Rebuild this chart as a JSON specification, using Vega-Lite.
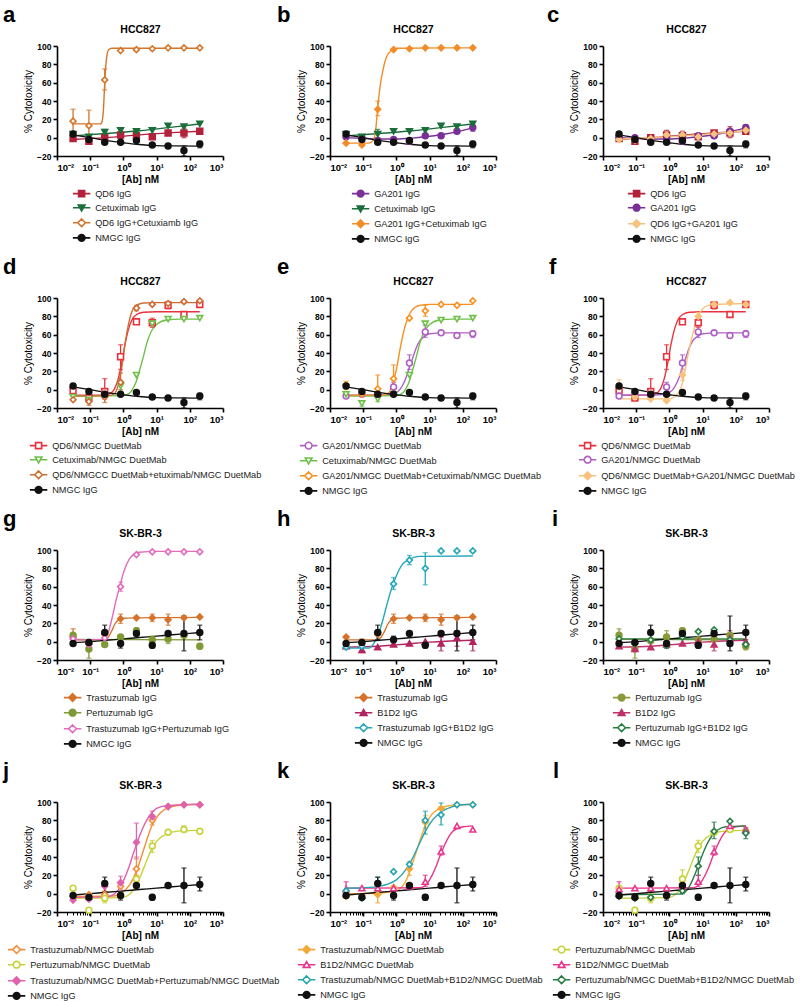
{
"$schema": "https://vega.github.io/schema/vega-lite/v6.json",
"background": "white",
"padding": {"left": 3, "top": 4, "right": 0, "bottom": 0},
"config": {
 "font": "Liberation Sans",
 "view": {"stroke": null},
 "axis": {"domainColor": "#000", "domainWidth": 1.6, "tickColor": "#000", "tickWidth": 1.6, "tickSize": 4, "labelFontWeight": "bold", "labelFontSize": 8.5, "labelColor": "#000", "titleColor": "#000", "grid": false, "labelFont": "Liberation Sans", "titleFont": "Liberation Sans"},
 "axisY": {"titleFontWeight": "normal", "titleFontSize": 10, "titlePadding": 3, "labelPadding": 2},
 "axisX": {"titleFontWeight": "bold", "titleFontSize": 10, "titlePadding": 3, "labelPadding": 2, "labelFontSize": 9.5},
 "axisTop": {"titleFontWeight": "bold", "titleFontSize": 10.5, "titlePadding": 12, "labels": false, "ticks": false, "domain": false},
 "legend": {"symbolSize": 45, "symbolStrokeWidth": 1.6, "labelFontSize": 9.2, "labelFont": "Liberation Sans", "labelColor": "#222", "rowPadding": 1.1, "labelOffset": 9, "padding": 0, "labelLimit": 400, "direction": "vertical"},
 "title": {"anchor": "start", "frame": "group", "fontSize": 22, "fontWeight": "bold", "font": "Liberation Sans", "color": "#000", "offset": -3}
},
"datasets": {
"pts": [
{"p":"a","s":"QD6 IgG","x":0.0305,"y":-1},{"p":"a","s":"QD6 IgG","x":0.0914,"y":-4},{"p":"a","s":"QD6 IgG","x":0.274,"y":0},{"p":"a","s":"QD6 IgG","x":0.823,"y":3,"lo":-1,"hi":7},{"p":"a","s":"QD6 IgG","x":2.47,"y":2},{"p":"a","s":"QD6 IgG","x":7.41,"y":1},{"p":"a","s":"QD6 IgG","x":22.2,"y":5},{"p":"a","s":"QD6 IgG","x":66.7,"y":5,"lo":0,"hi":10},{"p":"a","s":"QD6 IgG","x":200,"y":7},
{"p":"a","s":"Cetuximab IgG","x":0.0305,"y":4},{"p":"a","s":"Cetuximab IgG","x":0.0914,"y":1},{"p":"a","s":"Cetuximab IgG","x":0.274,"y":6,"lo":2,"hi":9},{"p":"a","s":"Cetuximab IgG","x":0.823,"y":8},{"p":"a","s":"Cetuximab IgG","x":2.47,"y":7},{"p":"a","s":"Cetuximab IgG","x":7.41,"y":8},{"p":"a","s":"Cetuximab IgG","x":22.2,"y":13},{"p":"a","s":"Cetuximab IgG","x":66.7,"y":12},{"p":"a","s":"Cetuximab IgG","x":200,"y":15},
{"p":"a","s":"QD6 IgG+Cetuxiamb IgG","x":0.0305,"y":18,"lo":6,"hi":31},{"p":"a","s":"QD6 IgG+Cetuxiamb IgG","x":0.0914,"y":13,"lo":-3,"hi":30},{"p":"a","s":"QD6 IgG+Cetuxiamb IgG","x":0.274,"y":63,"lo":52,"hi":75},{"p":"a","s":"QD6 IgG+Cetuxiamb IgG","x":0.823,"y":95},{"p":"a","s":"QD6 IgG+Cetuxiamb IgG","x":2.47,"y":96},{"p":"a","s":"QD6 IgG+Cetuxiamb IgG","x":7.41,"y":97},{"p":"a","s":"QD6 IgG+Cetuxiamb IgG","x":22.2,"y":98},{"p":"a","s":"QD6 IgG+Cetuxiamb IgG","x":66.7,"y":98},{"p":"a","s":"QD6 IgG+Cetuxiamb IgG","x":200,"y":98},
{"p":"a","s":"NMGC IgG","x":0.0305,"y":4},{"p":"a","s":"NMGC IgG","x":0.0914,"y":-2},{"p":"a","s":"NMGC IgG","x":0.274,"y":-5},{"p":"a","s":"NMGC IgG","x":0.823,"y":-5},{"p":"a","s":"NMGC IgG","x":2.47,"y":-3},{"p":"a","s":"NMGC IgG","x":7.41,"y":-8},{"p":"a","s":"NMGC IgG","x":22.2,"y":-9},{"p":"a","s":"NMGC IgG","x":66.7,"y":-14,"lo":-20,"hi":-9},{"p":"a","s":"NMGC IgG","x":200,"y":-7,"lo":-11,"hi":-4},

{"p":"b","s":"GA201 IgG","x":0.0305,"y":1},{"p":"b","s":"GA201 IgG","x":0.0914,"y":0},{"p":"b","s":"GA201 IgG","x":0.274,"y":-3},{"p":"b","s":"GA201 IgG","x":0.823,"y":-2},{"p":"b","s":"GA201 IgG","x":2.47,"y":-4},{"p":"b","s":"GA201 IgG","x":7.41,"y":2},{"p":"b","s":"GA201 IgG","x":22.2,"y":2},{"p":"b","s":"GA201 IgG","x":66.7,"y":7},{"p":"b","s":"GA201 IgG","x":200,"y":11,"lo":7,"hi":14},
{"p":"b","s":"Cetuximab IgG","x":0.0305,"y":4},{"p":"b","s":"Cetuximab IgG","x":0.0914,"y":1},{"p":"b","s":"Cetuximab IgG","x":0.274,"y":4,"lo":0,"hi":9},{"p":"b","s":"Cetuximab IgG","x":0.823,"y":7},{"p":"b","s":"Cetuximab IgG","x":2.47,"y":7},{"p":"b","s":"Cetuximab IgG","x":7.41,"y":8},{"p":"b","s":"Cetuximab IgG","x":22.2,"y":13},{"p":"b","s":"Cetuximab IgG","x":66.7,"y":12},{"p":"b","s":"Cetuximab IgG","x":200,"y":15},
{"p":"b","s":"GA201 IgG+Cetuximab IgG","x":0.0305,"y":-6},{"p":"b","s":"GA201 IgG+Cetuximab IgG","x":0.0914,"y":-8},{"p":"b","s":"GA201 IgG+Cetuximab IgG","x":0.274,"y":31,"lo":24,"hi":40},{"p":"b","s":"GA201 IgG+Cetuximab IgG","x":0.823,"y":96},{"p":"b","s":"GA201 IgG+Cetuximab IgG","x":2.47,"y":97},{"p":"b","s":"GA201 IgG+Cetuximab IgG","x":7.41,"y":98},{"p":"b","s":"GA201 IgG+Cetuximab IgG","x":22.2,"y":98},{"p":"b","s":"GA201 IgG+Cetuximab IgG","x":66.7,"y":98},{"p":"b","s":"GA201 IgG+Cetuximab IgG","x":200,"y":98},
{"p":"b","s":"NMGC IgG","x":0.0305,"y":4},{"p":"b","s":"NMGC IgG","x":0.0914,"y":-2},{"p":"b","s":"NMGC IgG","x":0.274,"y":-5},{"p":"b","s":"NMGC IgG","x":0.823,"y":-5},{"p":"b","s":"NMGC IgG","x":2.47,"y":-3},{"p":"b","s":"NMGC IgG","x":7.41,"y":-8},{"p":"b","s":"NMGC IgG","x":22.2,"y":-9},{"p":"b","s":"NMGC IgG","x":66.7,"y":-14,"lo":-20,"hi":-9},{"p":"b","s":"NMGC IgG","x":200,"y":-7,"lo":-11,"hi":-4},

{"p":"c","s":"QD6 IgG","x":0.0305,"y":-1},{"p":"c","s":"QD6 IgG","x":0.0914,"y":-4},{"p":"c","s":"QD6 IgG","x":0.274,"y":0},{"p":"c","s":"QD6 IgG","x":0.823,"y":3,"lo":-2,"hi":8},{"p":"c","s":"QD6 IgG","x":2.47,"y":2,"lo":-3,"hi":7},{"p":"c","s":"QD6 IgG","x":7.41,"y":1},{"p":"c","s":"QD6 IgG","x":22.2,"y":5},{"p":"c","s":"QD6 IgG","x":66.7,"y":5,"lo":0,"hi":12},{"p":"c","s":"QD6 IgG","x":200,"y":7},
{"p":"c","s":"GA201 IgG","x":0.0305,"y":1},{"p":"c","s":"GA201 IgG","x":0.0914,"y":0},{"p":"c","s":"GA201 IgG","x":0.274,"y":-3},{"p":"c","s":"GA201 IgG","x":0.823,"y":-2},{"p":"c","s":"GA201 IgG","x":2.47,"y":-4},{"p":"c","s":"GA201 IgG","x":7.41,"y":2},{"p":"c","s":"GA201 IgG","x":22.2,"y":2},{"p":"c","s":"GA201 IgG","x":66.7,"y":7},{"p":"c","s":"GA201 IgG","x":200,"y":11,"lo":7,"hi":14},
{"p":"c","s":"QD6 IgG+GA201 IgG","x":0.0305,"y":-2},{"p":"c","s":"QD6 IgG+GA201 IgG","x":0.0914,"y":-3},{"p":"c","s":"QD6 IgG+GA201 IgG","x":0.274,"y":-1},{"p":"c","s":"QD6 IgG+GA201 IgG","x":0.823,"y":3},{"p":"c","s":"QD6 IgG+GA201 IgG","x":2.47,"y":3},{"p":"c","s":"QD6 IgG+GA201 IgG","x":7.41,"y":1},{"p":"c","s":"QD6 IgG+GA201 IgG","x":22.2,"y":4},{"p":"c","s":"QD6 IgG+GA201 IgG","x":66.7,"y":5},{"p":"c","s":"QD6 IgG+GA201 IgG","x":200,"y":8},
{"p":"c","s":"NMGC IgG","x":0.0305,"y":4},{"p":"c","s":"NMGC IgG","x":0.0914,"y":-2},{"p":"c","s":"NMGC IgG","x":0.274,"y":-5},{"p":"c","s":"NMGC IgG","x":0.823,"y":-5},{"p":"c","s":"NMGC IgG","x":2.47,"y":-3},{"p":"c","s":"NMGC IgG","x":7.41,"y":-8},{"p":"c","s":"NMGC IgG","x":22.2,"y":-9},{"p":"c","s":"NMGC IgG","x":66.7,"y":-14,"lo":-20,"hi":-9},{"p":"c","s":"NMGC IgG","x":200,"y":-7,"lo":-11,"hi":-4},

{"p":"d","s":"QD6/NMGC DuetMab","x":0.0305,"y":-1},{"p":"d","s":"QD6/NMGC DuetMab","x":0.0914,"y":-9},{"p":"d","s":"QD6/NMGC DuetMab","x":0.274,"y":-2,"lo":-10,"hi":12},{"p":"d","s":"QD6/NMGC DuetMab","x":0.823,"y":36,"lo":22,"hi":49},{"p":"d","s":"QD6/NMGC DuetMab","x":2.47,"y":74},{"p":"d","s":"QD6/NMGC DuetMab","x":7.41,"y":73,"lo":68,"hi":78},{"p":"d","s":"QD6/NMGC DuetMab","x":22.2,"y":92,"lo":88,"hi":96},{"p":"d","s":"QD6/NMGC DuetMab","x":66.7,"y":82},{"p":"d","s":"QD6/NMGC DuetMab","x":200,"y":93},
{"p":"d","s":"Cetuximab/NMGC DuetMab","x":0.0305,"y":-8},{"p":"d","s":"Cetuximab/NMGC DuetMab","x":0.0914,"y":-11},{"p":"d","s":"Cetuximab/NMGC DuetMab","x":0.274,"y":-8},{"p":"d","s":"Cetuximab/NMGC DuetMab","x":0.823,"y":4,"lo":-2,"hi":10},{"p":"d","s":"Cetuximab/NMGC DuetMab","x":2.47,"y":16},{"p":"d","s":"Cetuximab/NMGC DuetMab","x":7.41,"y":72},{"p":"d","s":"Cetuximab/NMGC DuetMab","x":22.2,"y":77},{"p":"d","s":"Cetuximab/NMGC DuetMab","x":66.7,"y":77},{"p":"d","s":"Cetuximab/NMGC DuetMab","x":200,"y":78},
{"p":"d","s":"QD6/NMGCC DuetMab+etuximab/NMGC DuetMab","x":0.0305,"y":-11},{"p":"d","s":"QD6/NMGCC DuetMab+etuximab/NMGC DuetMab","x":0.0914,"y":-13,"lo":-17,"hi":-9},{"p":"d","s":"QD6/NMGCC DuetMab+etuximab/NMGC DuetMab","x":0.274,"y":-8,"lo":-14,"hi":-2},{"p":"d","s":"QD6/NMGCC DuetMab+etuximab/NMGC DuetMab","x":0.823,"y":8,"lo":0,"hi":18},{"p":"d","s":"QD6/NMGCC DuetMab+etuximab/NMGC DuetMab","x":2.47,"y":89,"lo":86,"hi":92},{"p":"d","s":"QD6/NMGCC DuetMab+etuximab/NMGC DuetMab","x":7.41,"y":93},{"p":"d","s":"QD6/NMGCC DuetMab+etuximab/NMGC DuetMab","x":22.2,"y":94},{"p":"d","s":"QD6/NMGCC DuetMab+etuximab/NMGC DuetMab","x":66.7,"y":96},{"p":"d","s":"QD6/NMGCC DuetMab+etuximab/NMGC DuetMab","x":200,"y":97},
{"p":"d","s":"NMGC IgG","x":0.0305,"y":4},{"p":"d","s":"NMGC IgG","x":0.0914,"y":-2},{"p":"d","s":"NMGC IgG","x":0.274,"y":-5},{"p":"d","s":"NMGC IgG","x":0.823,"y":-5},{"p":"d","s":"NMGC IgG","x":2.47,"y":-3},{"p":"d","s":"NMGC IgG","x":7.41,"y":-8},{"p":"d","s":"NMGC IgG","x":22.2,"y":-9},{"p":"d","s":"NMGC IgG","x":66.7,"y":-14,"lo":-20,"hi":-9},{"p":"d","s":"NMGC IgG","x":200,"y":-7,"lo":-11,"hi":-4},

{"p":"e","s":"GA201/NMGC DuetMab","x":0.0305,"y":-7},{"p":"e","s":"GA201/NMGC DuetMab","x":0.0914,"y":-5},{"p":"e","s":"GA201/NMGC DuetMab","x":0.274,"y":-6},{"p":"e","s":"GA201/NMGC DuetMab","x":0.823,"y":3,"lo":-2,"hi":8},{"p":"e","s":"GA201/NMGC DuetMab","x":2.47,"y":29,"lo":22,"hi":38},{"p":"e","s":"GA201/NMGC DuetMab","x":7.41,"y":63,"lo":57,"hi":70},{"p":"e","s":"GA201/NMGC DuetMab","x":22.2,"y":62},{"p":"e","s":"GA201/NMGC DuetMab","x":66.7,"y":59},{"p":"e","s":"GA201/NMGC DuetMab","x":200,"y":61,"lo":57,"hi":64},
{"p":"e","s":"Cetuximab/NMGC DuetMab","x":0.0305,"y":-5},{"p":"e","s":"Cetuximab/NMGC DuetMab","x":0.0914,"y":-15,"lo":-18,"hi":-12},{"p":"e","s":"Cetuximab/NMGC DuetMab","x":0.274,"y":-10,"lo":-13,"hi":-7},{"p":"e","s":"Cetuximab/NMGC DuetMab","x":0.823,"y":-5},{"p":"e","s":"Cetuximab/NMGC DuetMab","x":2.47,"y":16},{"p":"e","s":"Cetuximab/NMGC DuetMab","x":7.41,"y":72},{"p":"e","s":"Cetuximab/NMGC DuetMab","x":22.2,"y":76},{"p":"e","s":"Cetuximab/NMGC DuetMab","x":66.7,"y":77},{"p":"e","s":"Cetuximab/NMGC DuetMab","x":200,"y":78},
{"p":"e","s":"GA201/NMGC DuetMab+Cetuximab/NMGC DuetMab","x":0.0305,"y":5,"lo":0,"hi":9},{"p":"e","s":"GA201/NMGC DuetMab+Cetuximab/NMGC DuetMab","x":0.0914,"y":-5},{"p":"e","s":"GA201/NMGC DuetMab+Cetuximab/NMGC DuetMab","x":0.274,"y":1,"lo":-8,"hi":16},{"p":"e","s":"GA201/NMGC DuetMab+Cetuximab/NMGC DuetMab","x":0.823,"y":12,"lo":2,"hi":27},{"p":"e","s":"GA201/NMGC DuetMab+Cetuximab/NMGC DuetMab","x":2.47,"y":78},{"p":"e","s":"GA201/NMGC DuetMab+Cetuximab/NMGC DuetMab","x":7.41,"y":86,"lo":80,"hi":92},{"p":"e","s":"GA201/NMGC DuetMab+Cetuximab/NMGC DuetMab","x":22.2,"y":93},{"p":"e","s":"GA201/NMGC DuetMab+Cetuximab/NMGC DuetMab","x":66.7,"y":92},{"p":"e","s":"GA201/NMGC DuetMab+Cetuximab/NMGC DuetMab","x":200,"y":97},
{"p":"e","s":"NMGC IgG","x":0.0305,"y":4},{"p":"e","s":"NMGC IgG","x":0.0914,"y":-2},{"p":"e","s":"NMGC IgG","x":0.274,"y":-5},{"p":"e","s":"NMGC IgG","x":0.823,"y":-5},{"p":"e","s":"NMGC IgG","x":2.47,"y":-3},{"p":"e","s":"NMGC IgG","x":7.41,"y":-8},{"p":"e","s":"NMGC IgG","x":22.2,"y":-9},{"p":"e","s":"NMGC IgG","x":66.7,"y":-14,"lo":-20,"hi":-9},{"p":"e","s":"NMGC IgG","x":200,"y":-7,"lo":-11,"hi":-4},

{"p":"f","s":"QD6/NMGC DuetMab","x":0.0305,"y":-1},{"p":"f","s":"QD6/NMGC DuetMab","x":0.0914,"y":-9},{"p":"f","s":"QD6/NMGC DuetMab","x":0.274,"y":-2,"lo":-10,"hi":12},{"p":"f","s":"QD6/NMGC DuetMab","x":0.823,"y":36,"lo":22,"hi":49},{"p":"f","s":"QD6/NMGC DuetMab","x":2.47,"y":74},{"p":"f","s":"QD6/NMGC DuetMab","x":7.41,"y":73,"lo":68,"hi":78},{"p":"f","s":"QD6/NMGC DuetMab","x":22.2,"y":92,"lo":88,"hi":96},{"p":"f","s":"QD6/NMGC DuetMab","x":66.7,"y":82},{"p":"f","s":"QD6/NMGC DuetMab","x":200,"y":93},
{"p":"f","s":"GA201/NMGC DuetMab","x":0.0305,"y":-7},{"p":"f","s":"GA201/NMGC DuetMab","x":0.0914,"y":-5},{"p":"f","s":"GA201/NMGC DuetMab","x":0.274,"y":-6},{"p":"f","s":"GA201/NMGC DuetMab","x":0.823,"y":3,"lo":-2,"hi":8},{"p":"f","s":"GA201/NMGC DuetMab","x":2.47,"y":29,"lo":22,"hi":38},{"p":"f","s":"GA201/NMGC DuetMab","x":7.41,"y":63,"lo":57,"hi":70},{"p":"f","s":"GA201/NMGC DuetMab","x":22.2,"y":62},{"p":"f","s":"GA201/NMGC DuetMab","x":66.7,"y":59},{"p":"f","s":"GA201/NMGC DuetMab","x":200,"y":61,"lo":57,"hi":64},
{"p":"f","s":"QD6/NMGC DuetMab+GA201/NMGC DuetMab","x":0.0305,"y":3,"lo":-5,"hi":11},{"p":"f","s":"QD6/NMGC DuetMab+GA201/NMGC DuetMab","x":0.0914,"y":-8},{"p":"f","s":"QD6/NMGC DuetMab+GA201/NMGC DuetMab","x":0.274,"y":-10},{"p":"f","s":"QD6/NMGC DuetMab+GA201/NMGC DuetMab","x":0.823,"y":-12},{"p":"f","s":"QD6/NMGC DuetMab+GA201/NMGC DuetMab","x":2.47,"y":16,"lo":10,"hi":22},{"p":"f","s":"QD6/NMGC DuetMab+GA201/NMGC DuetMab","x":7.41,"y":80,"lo":76,"hi":84},{"p":"f","s":"QD6/NMGC DuetMab+GA201/NMGC DuetMab","x":22.2,"y":93},{"p":"f","s":"QD6/NMGC DuetMab+GA201/NMGC DuetMab","x":66.7,"y":95},{"p":"f","s":"QD6/NMGC DuetMab+GA201/NMGC DuetMab","x":200,"y":93},
{"p":"f","s":"NMGC IgG","x":0.0305,"y":4},{"p":"f","s":"NMGC IgG","x":0.0914,"y":-2},{"p":"f","s":"NMGC IgG","x":0.274,"y":-5},{"p":"f","s":"NMGC IgG","x":0.823,"y":-5},{"p":"f","s":"NMGC IgG","x":2.47,"y":-3},{"p":"f","s":"NMGC IgG","x":7.41,"y":-8},{"p":"f","s":"NMGC IgG","x":22.2,"y":-9},{"p":"f","s":"NMGC IgG","x":66.7,"y":-14,"lo":-20,"hi":-9},{"p":"f","s":"NMGC IgG","x":200,"y":-7,"lo":-11,"hi":-4},

{"p":"g","s":"Trastuzumab IgG","x":0.0305,"y":5,"lo":-2,"hi":14},{"p":"g","s":"Trastuzumab IgG","x":0.0914,"y":-2},{"p":"g","s":"Trastuzumab IgG","x":0.274,"y":8},{"p":"g","s":"Trastuzumab IgG","x":0.823,"y":25,"lo":20,"hi":30},{"p":"g","s":"Trastuzumab IgG","x":2.47,"y":26},{"p":"g","s":"Trastuzumab IgG","x":7.41,"y":26,"lo":22,"hi":30},{"p":"g","s":"Trastuzumab IgG","x":22.2,"y":24,"lo":18,"hi":30},{"p":"g","s":"Trastuzumab IgG","x":66.7,"y":26},{"p":"g","s":"Trastuzumab IgG","x":200,"y":27},
{"p":"g","s":"Pertuzumab IgG","x":0.0305,"y":7},{"p":"g","s":"Pertuzumab IgG","x":0.0914,"y":-8,"lo":-18,"hi":2},{"p":"g","s":"Pertuzumab IgG","x":0.274,"y":-3},{"p":"g","s":"Pertuzumab IgG","x":0.823,"y":5},{"p":"g","s":"Pertuzumab IgG","x":2.47,"y":12,"lo":8,"hi":15},{"p":"g","s":"Pertuzumab IgG","x":7.41,"y":2,"lo":-2,"hi":6},{"p":"g","s":"Pertuzumab IgG","x":22.2,"y":3,"lo":-2,"hi":8},{"p":"g","s":"Pertuzumab IgG","x":66.7,"y":7},{"p":"g","s":"Pertuzumab IgG","x":200,"y":-5,"lo":-8,"hi":-2},
{"p":"g","s":"Trastuzumab IgG+Pertuzumab IgG","x":0.0305,"y":3},{"p":"g","s":"Trastuzumab IgG+Pertuzumab IgG","x":0.0914,"y":-3},{"p":"g","s":"Trastuzumab IgG+Pertuzumab IgG","x":0.274,"y":4},{"p":"g","s":"Trastuzumab IgG+Pertuzumab IgG","x":0.823,"y":60,"lo":55,"hi":65},{"p":"g","s":"Trastuzumab IgG+Pertuzumab IgG","x":2.47,"y":95},{"p":"g","s":"Trastuzumab IgG+Pertuzumab IgG","x":7.41,"y":98},{"p":"g","s":"Trastuzumab IgG+Pertuzumab IgG","x":22.2,"y":98},{"p":"g","s":"Trastuzumab IgG+Pertuzumab IgG","x":66.7,"y":98},{"p":"g","s":"Trastuzumab IgG+Pertuzumab IgG","x":200,"y":98},
{"p":"g","s":"NMGC IgG","x":0.0305,"y":-2},{"p":"g","s":"NMGC IgG","x":0.0914,"y":-1},{"p":"g","s":"NMGC IgG","x":0.274,"y":10,"lo":2,"hi":18},{"p":"g","s":"NMGC IgG","x":0.823,"y":-2,"lo":-7,"hi":2},{"p":"g","s":"NMGC IgG","x":2.47,"y":9},{"p":"g","s":"NMGC IgG","x":7.41,"y":-4,"lo":-7,"hi":-1},{"p":"g","s":"NMGC IgG","x":22.2,"y":9},{"p":"g","s":"NMGC IgG","x":66.7,"y":9,"lo":-10,"hi":28},{"p":"g","s":"NMGC IgG","x":200,"y":10,"lo":2,"hi":18},

{"p":"h","s":"Trastuzumab IgG","x":0.0305,"y":5,"lo":-2,"hi":6},{"p":"h","s":"Trastuzumab IgG","x":0.0914,"y":-2,"lo":-6,"hi":3},{"p":"h","s":"Trastuzumab IgG","x":0.274,"y":8},{"p":"h","s":"Trastuzumab IgG","x":0.823,"y":25,"lo":20,"hi":30},{"p":"h","s":"Trastuzumab IgG","x":2.47,"y":26},{"p":"h","s":"Trastuzumab IgG","x":7.41,"y":26,"lo":22,"hi":30},{"p":"h","s":"Trastuzumab IgG","x":22.2,"y":24,"lo":18,"hi":30},{"p":"h","s":"Trastuzumab IgG","x":66.7,"y":26},{"p":"h","s":"Trastuzumab IgG","x":200,"y":27},
{"p":"h","s":"B1D2 IgG","x":0.0305,"y":-5},{"p":"h","s":"B1D2 IgG","x":0.0914,"y":-9,"lo":-12,"hi":-4},{"p":"h","s":"B1D2 IgG","x":0.274,"y":-6},{"p":"h","s":"B1D2 IgG","x":0.823,"y":-3},{"p":"h","s":"B1D2 IgG","x":2.47,"y":-2},{"p":"h","s":"B1D2 IgG","x":7.41,"y":0},{"p":"h","s":"B1D2 IgG","x":22.2,"y":-2,"lo":-10,"hi":5},{"p":"h","s":"B1D2 IgG","x":66.7,"y":4,"lo":-5,"hi":12},{"p":"h","s":"B1D2 IgG","x":200,"y":0,"lo":-10,"hi":8},
{"p":"h","s":"Trastuzumab IgG+B1D2 IgG","x":0.0305,"y":-6},{"p":"h","s":"Trastuzumab IgG+B1D2 IgG","x":0.0914,"y":-5},{"p":"h","s":"Trastuzumab IgG+B1D2 IgG","x":0.274,"y":10},{"p":"h","s":"Trastuzumab IgG+B1D2 IgG","x":0.823,"y":63,"lo":57,"hi":70},{"p":"h","s":"Trastuzumab IgG+B1D2 IgG","x":2.47,"y":89,"lo":84,"hi":94},{"p":"h","s":"Trastuzumab IgG+B1D2 IgG","x":7.41,"y":80,"lo":62,"hi":97},{"p":"h","s":"Trastuzumab IgG+B1D2 IgG","x":22.2,"y":99},{"p":"h","s":"Trastuzumab IgG+B1D2 IgG","x":66.7,"y":99},{"p":"h","s":"Trastuzumab IgG+B1D2 IgG","x":200,"y":99},
{"p":"h","s":"NMGC IgG","x":0.0305,"y":-2},{"p":"h","s":"NMGC IgG","x":0.0914,"y":-1},{"p":"h","s":"NMGC IgG","x":0.274,"y":10,"lo":2,"hi":18},{"p":"h","s":"NMGC IgG","x":0.823,"y":2,"lo":-3,"hi":6},{"p":"h","s":"NMGC IgG","x":2.47,"y":9},{"p":"h","s":"NMGC IgG","x":7.41,"y":-4,"lo":-7,"hi":-1},{"p":"h","s":"NMGC IgG","x":22.2,"y":9},{"p":"h","s":"NMGC IgG","x":66.7,"y":9,"lo":-10,"hi":28},{"p":"h","s":"NMGC IgG","x":200,"y":10,"lo":2,"hi":18},

{"p":"i","s":"Pertuzumab IgG","x":0.0305,"y":7,"lo":0,"hi":14},{"p":"i","s":"Pertuzumab IgG","x":0.0914,"y":-8,"lo":-18,"hi":2},{"p":"i","s":"Pertuzumab IgG","x":0.274,"y":1},{"p":"i","s":"Pertuzumab IgG","x":0.823,"y":5,"lo":-2,"hi":12},{"p":"i","s":"Pertuzumab IgG","x":2.47,"y":12,"lo":8,"hi":15},{"p":"i","s":"Pertuzumab IgG","x":7.41,"y":2},{"p":"i","s":"Pertuzumab IgG","x":22.2,"y":3},{"p":"i","s":"Pertuzumab IgG","x":66.7,"y":7},{"p":"i","s":"Pertuzumab IgG","x":200,"y":-5,"lo":-9,"hi":-2},
{"p":"i","s":"B1D2 IgG","x":0.0305,"y":-5},{"p":"i","s":"B1D2 IgG","x":0.0914,"y":-8},{"p":"i","s":"B1D2 IgG","x":0.274,"y":-6},{"p":"i","s":"B1D2 IgG","x":0.823,"y":-3},{"p":"i","s":"B1D2 IgG","x":2.47,"y":-2},{"p":"i","s":"B1D2 IgG","x":7.41,"y":0},{"p":"i","s":"B1D2 IgG","x":22.2,"y":-3,"lo":-10,"hi":5},{"p":"i","s":"B1D2 IgG","x":66.7,"y":4,"lo":-5,"hi":12},{"p":"i","s":"B1D2 IgG","x":200,"y":0},
{"p":"i","s":"Pertuzumab IgG+B1D2 IgG","x":0.0305,"y":3},{"p":"i","s":"Pertuzumab IgG+B1D2 IgG","x":0.0914,"y":-2},{"p":"i","s":"Pertuzumab IgG+B1D2 IgG","x":0.274,"y":2},{"p":"i","s":"Pertuzumab IgG+B1D2 IgG","x":0.823,"y":-4},{"p":"i","s":"Pertuzumab IgG+B1D2 IgG","x":2.47,"y":5},{"p":"i","s":"Pertuzumab IgG+B1D2 IgG","x":7.41,"y":11},{"p":"i","s":"Pertuzumab IgG+B1D2 IgG","x":22.2,"y":13},{"p":"i","s":"Pertuzumab IgG+B1D2 IgG","x":66.7,"y":2},{"p":"i","s":"Pertuzumab IgG+B1D2 IgG","x":200,"y":-3},
{"p":"i","s":"NMGC IgG","x":0.0305,"y":-2},{"p":"i","s":"NMGC IgG","x":0.0914,"y":-1},{"p":"i","s":"NMGC IgG","x":0.274,"y":10,"lo":2,"hi":18},{"p":"i","s":"NMGC IgG","x":0.823,"y":-2,"lo":-7,"hi":2},{"p":"i","s":"NMGC IgG","x":2.47,"y":9},{"p":"i","s":"NMGC IgG","x":7.41,"y":-4,"lo":-7,"hi":-1},{"p":"i","s":"NMGC IgG","x":22.2,"y":9},{"p":"i","s":"NMGC IgG","x":66.7,"y":-2,"lo":-10,"hi":28},{"p":"i","s":"NMGC IgG","x":200,"y":10,"lo":2,"hi":18},

{"p":"j","s":"Trastuzumab/NMGC DuetMab","x":0.0305,"y":-3},{"p":"j","s":"Trastuzumab/NMGC DuetMab","x":0.0914,"y":-1},{"p":"j","s":"Trastuzumab/NMGC DuetMab","x":0.274,"y":-1,"lo":-8,"hi":3},{"p":"j","s":"Trastuzumab/NMGC DuetMab","x":0.823,"y":8},{"p":"j","s":"Trastuzumab/NMGC DuetMab","x":2.47,"y":27,"lo":20,"hi":40},{"p":"j","s":"Trastuzumab/NMGC DuetMab","x":7.41,"y":80,"lo":75,"hi":86},{"p":"j","s":"Trastuzumab/NMGC DuetMab","x":22.2,"y":95},{"p":"j","s":"Trastuzumab/NMGC DuetMab","x":66.7,"y":97},{"p":"j","s":"Trastuzumab/NMGC DuetMab","x":200,"y":97},
{"p":"j","s":"Pertuzumab/NMGC DuetMab","x":0.0305,"y":6},{"p":"j","s":"Pertuzumab/NMGC DuetMab","x":0.0914,"y":-18},{"p":"j","s":"Pertuzumab/NMGC DuetMab","x":0.274,"y":-5,"lo":-10,"hi":0},{"p":"j","s":"Pertuzumab/NMGC DuetMab","x":0.823,"y":-2},{"p":"j","s":"Pertuzumab/NMGC DuetMab","x":2.47,"y":16},{"p":"j","s":"Pertuzumab/NMGC DuetMab","x":7.41,"y":52,"lo":45,"hi":58},{"p":"j","s":"Pertuzumab/NMGC DuetMab","x":22.2,"y":67},{"p":"j","s":"Pertuzumab/NMGC DuetMab","x":66.7,"y":70,"lo":67,"hi":74},{"p":"j","s":"Pertuzumab/NMGC DuetMab","x":200,"y":68},
{"p":"j","s":"Trastuzumab/NMGC DuetMab+Pertuzumab/NMGC DuetMab","x":0.0305,"y":-7},{"p":"j","s":"Trastuzumab/NMGC DuetMab+Pertuzumab/NMGC DuetMab","x":0.0914,"y":-6},{"p":"j","s":"Trastuzumab/NMGC DuetMab+Pertuzumab/NMGC DuetMab","x":0.274,"y":8},{"p":"j","s":"Trastuzumab/NMGC DuetMab+Pertuzumab/NMGC DuetMab","x":0.823,"y":12,"lo":5,"hi":19},{"p":"j","s":"Trastuzumab/NMGC DuetMab+Pertuzumab/NMGC DuetMab","x":2.47,"y":56,"lo":38,"hi":77},{"p":"j","s":"Trastuzumab/NMGC DuetMab+Pertuzumab/NMGC DuetMab","x":7.41,"y":84,"lo":80,"hi":90},{"p":"j","s":"Trastuzumab/NMGC DuetMab+Pertuzumab/NMGC DuetMab","x":22.2,"y":95},{"p":"j","s":"Trastuzumab/NMGC DuetMab+Pertuzumab/NMGC DuetMab","x":66.7,"y":97},{"p":"j","s":"Trastuzumab/NMGC DuetMab+Pertuzumab/NMGC DuetMab","x":200,"y":97},
{"p":"j","s":"NMGC IgG","x":0.0305,"y":-2},{"p":"j","s":"NMGC IgG","x":0.0914,"y":-4},{"p":"j","s":"NMGC IgG","x":0.274,"y":11,"lo":2,"hi":18},{"p":"j","s":"NMGC IgG","x":0.823,"y":-2,"lo":-7,"hi":2},{"p":"j","s":"NMGC IgG","x":2.47,"y":9},{"p":"j","s":"NMGC IgG","x":7.41,"y":-4,"lo":-7,"hi":-1},{"p":"j","s":"NMGC IgG","x":22.2,"y":9},{"p":"j","s":"NMGC IgG","x":66.7,"y":9,"lo":-10,"hi":28},{"p":"j","s":"NMGC IgG","x":200,"y":10,"lo":3,"hi":18},

{"p":"k","s":"Trastuzumab/NMGC DuetMab","x":0.0305,"y":-3},{"p":"k","s":"Trastuzumab/NMGC DuetMab","x":0.0914,"y":-5},{"p":"k","s":"Trastuzumab/NMGC DuetMab","x":0.274,"y":-1,"lo":-10,"hi":8},{"p":"k","s":"Trastuzumab/NMGC DuetMab","x":0.823,"y":7},{"p":"k","s":"Trastuzumab/NMGC DuetMab","x":2.47,"y":27,"lo":20,"hi":35},{"p":"k","s":"Trastuzumab/NMGC DuetMab","x":7.41,"y":78,"lo":72,"hi":85},{"p":"k","s":"Trastuzumab/NMGC DuetMab","x":22.2,"y":93},{"p":"k","s":"Trastuzumab/NMGC DuetMab","x":66.7,"y":97},{"p":"k","s":"Trastuzumab/NMGC DuetMab","x":200,"y":97},
{"p":"k","s":"B1D2/NMGC DuetMab","x":0.0305,"y":5,"lo":-3,"hi":13},{"p":"k","s":"B1D2/NMGC DuetMab","x":0.0914,"y":6},{"p":"k","s":"B1D2/NMGC DuetMab","x":0.274,"y":6},{"p":"k","s":"B1D2/NMGC DuetMab","x":0.823,"y":6},{"p":"k","s":"B1D2/NMGC DuetMab","x":2.47,"y":8},{"p":"k","s":"B1D2/NMGC DuetMab","x":7.41,"y":13,"lo":8,"hi":20},{"p":"k","s":"B1D2/NMGC DuetMab","x":22.2,"y":46,"lo":42,"hi":52},{"p":"k","s":"B1D2/NMGC DuetMab","x":66.7,"y":74},{"p":"k","s":"B1D2/NMGC DuetMab","x":200,"y":70},
{"p":"k","s":"Trastuzumab/NMGC DuetMab+B1D2/NMGC DuetMab","x":0.0305,"y":3},{"p":"k","s":"Trastuzumab/NMGC DuetMab+B1D2/NMGC DuetMab","x":0.0914,"y":-5},{"p":"k","s":"Trastuzumab/NMGC DuetMab+B1D2/NMGC DuetMab","x":0.274,"y":11,"lo":5,"hi":18},{"p":"k","s":"Trastuzumab/NMGC DuetMab+B1D2/NMGC DuetMab","x":0.823,"y":24},{"p":"k","s":"Trastuzumab/NMGC DuetMab+B1D2/NMGC DuetMab","x":2.47,"y":32},{"p":"k","s":"Trastuzumab/NMGC DuetMab+B1D2/NMGC DuetMab","x":7.41,"y":80,"lo":65,"hi":90},{"p":"k","s":"Trastuzumab/NMGC DuetMab+B1D2/NMGC DuetMab","x":22.2,"y":86,"lo":75,"hi":99},{"p":"k","s":"Trastuzumab/NMGC DuetMab+B1D2/NMGC DuetMab","x":66.7,"y":97},{"p":"k","s":"Trastuzumab/NMGC DuetMab+B1D2/NMGC DuetMab","x":200,"y":97},
{"p":"k","s":"NMGC IgG","x":0.0305,"y":-2},{"p":"k","s":"NMGC IgG","x":0.0914,"y":-4},{"p":"k","s":"NMGC IgG","x":0.274,"y":11,"lo":2,"hi":18},{"p":"k","s":"NMGC IgG","x":0.823,"y":-2,"lo":-7,"hi":2},{"p":"k","s":"NMGC IgG","x":2.47,"y":9},{"p":"k","s":"NMGC IgG","x":7.41,"y":-4,"lo":-7,"hi":-1},{"p":"k","s":"NMGC IgG","x":22.2,"y":9},{"p":"k","s":"NMGC IgG","x":66.7,"y":9,"lo":-10,"hi":28},{"p":"k","s":"NMGC IgG","x":200,"y":10,"lo":3,"hi":18},

{"p":"l","s":"Pertuzumab/NMGC DuetMab","x":0.0305,"y":6},{"p":"l","s":"Pertuzumab/NMGC DuetMab","x":0.0914,"y":-18},{"p":"l","s":"Pertuzumab/NMGC DuetMab","x":0.274,"y":-5,"lo":-10,"hi":0},{"p":"l","s":"Pertuzumab/NMGC DuetMab","x":0.823,"y":-2},{"p":"l","s":"Pertuzumab/NMGC DuetMab","x":2.47,"y":16,"lo":8,"hi":26},{"p":"l","s":"Pertuzumab/NMGC DuetMab","x":7.41,"y":52,"lo":45,"hi":58},{"p":"l","s":"Pertuzumab/NMGC DuetMab","x":22.2,"y":67},{"p":"l","s":"Pertuzumab/NMGC DuetMab","x":66.7,"y":70,"lo":67,"hi":74},{"p":"l","s":"Pertuzumab/NMGC DuetMab","x":200,"y":68},
{"p":"l","s":"B1D2/NMGC DuetMab","x":0.0305,"y":5,"lo":-3,"hi":13},{"p":"l","s":"B1D2/NMGC DuetMab","x":0.0914,"y":6},{"p":"l","s":"B1D2/NMGC DuetMab","x":0.274,"y":6},{"p":"l","s":"B1D2/NMGC DuetMab","x":0.823,"y":6},{"p":"l","s":"B1D2/NMGC DuetMab","x":2.47,"y":8},{"p":"l","s":"B1D2/NMGC DuetMab","x":7.41,"y":13,"lo":8,"hi":20},{"p":"l","s":"B1D2/NMGC DuetMab","x":22.2,"y":46,"lo":42,"hi":52},{"p":"l","s":"B1D2/NMGC DuetMab","x":66.7,"y":74},{"p":"l","s":"B1D2/NMGC DuetMab","x":200,"y":70},
{"p":"l","s":"Pertuzumab/NMGC DuetMab+B1D2/NMGC DuetMab","x":0.0305,"y":-3},{"p":"l","s":"Pertuzumab/NMGC DuetMab+B1D2/NMGC DuetMab","x":0.0914,"y":-5},{"p":"l","s":"Pertuzumab/NMGC DuetMab+B1D2/NMGC DuetMab","x":0.274,"y":-4},{"p":"l","s":"Pertuzumab/NMGC DuetMab+B1D2/NMGC DuetMab","x":0.823,"y":-2},{"p":"l","s":"Pertuzumab/NMGC DuetMab+B1D2/NMGC DuetMab","x":2.47,"y":3,"lo":0,"hi":6},{"p":"l","s":"Pertuzumab/NMGC DuetMab+B1D2/NMGC DuetMab","x":7.41,"y":30,"lo":20,"hi":40},{"p":"l","s":"Pertuzumab/NMGC DuetMab+B1D2/NMGC DuetMab","x":22.2,"y":68,"lo":60,"hi":78},{"p":"l","s":"Pertuzumab/NMGC DuetMab+B1D2/NMGC DuetMab","x":66.7,"y":79},{"p":"l","s":"Pertuzumab/NMGC DuetMab+B1D2/NMGC DuetMab","x":200,"y":66,"lo":60,"hi":72},
{"p":"l","s":"NMGC IgG","x":0.0305,"y":-2},{"p":"l","s":"NMGC IgG","x":0.0914,"y":-4},{"p":"l","s":"NMGC IgG","x":0.274,"y":11,"lo":2,"hi":18},{"p":"l","s":"NMGC IgG","x":0.823,"y":-2,"lo":-7,"hi":2},{"p":"l","s":"NMGC IgG","x":2.47,"y":9},{"p":"l","s":"NMGC IgG","x":7.41,"y":-4,"lo":-7,"hi":-1},{"p":"l","s":"NMGC IgG","x":22.2,"y":9},{"p":"l","s":"NMGC IgG","x":66.7,"y":9,"lo":-10,"hi":28},{"p":"l","s":"NMGC IgG","x":200,"y":10,"lo":3,"hi":18}
],
"crv": [
{"p":"a","s":"QD6 IgG","x":0.03,"y":-2},{"p":"a","s":"QD6 IgG","x":0.3,"y":0},{"p":"a","s":"QD6 IgG","x":3,"y":3},{"p":"a","s":"QD6 IgG","x":30,"y":5.5},{"p":"a","s":"QD6 IgG","x":200,"y":7},
{"p":"a","s":"Cetuximab IgG","x":0.03,"y":2},{"p":"a","s":"Cetuximab IgG","x":0.3,"y":4.5},{"p":"a","s":"Cetuximab IgG","x":3,"y":7.5},{"p":"a","s":"Cetuximab IgG","x":30,"y":11.5},{"p":"a","s":"Cetuximab IgG","x":200,"y":15},
{"p":"a","s":"QD6 IgG+Cetuxiamb IgG","x":0.03,"y":15},{"p":"a","s":"QD6 IgG+Cetuxiamb IgG","x":0.2,"y":15},{"p":"a","s":"QD6 IgG+Cetuxiamb IgG","x":0.22,"y":16},{"p":"a","s":"QD6 IgG+Cetuxiamb IgG","x":0.25,"y":30},{"p":"a","s":"QD6 IgG+Cetuxiamb IgG","x":0.27,"y":55},{"p":"a","s":"QD6 IgG+Cetuxiamb IgG","x":0.29,"y":75},{"p":"a","s":"QD6 IgG+Cetuxiamb IgG","x":0.32,"y":90},{"p":"a","s":"QD6 IgG+Cetuxiamb IgG","x":0.36,"y":96},{"p":"a","s":"QD6 IgG+Cetuxiamb IgG","x":0.45,"y":97.5},{"p":"a","s":"QD6 IgG+Cetuxiamb IgG","x":200,"y":97.5},
{"p":"a","s":"NMGC IgG","x":0.03,"y":3},{"p":"a","s":"NMGC IgG","x":0.1,"y":0},{"p":"a","s":"NMGC IgG","x":0.3,"y":-3},{"p":"a","s":"NMGC IgG","x":1,"y":-5.5},{"p":"a","s":"NMGC IgG","x":3,"y":-7.5},{"p":"a","s":"NMGC IgG","x":10,"y":-8.7},{"p":"a","s":"NMGC IgG","x":30,"y":-9},{"p":"a","s":"NMGC IgG","x":200,"y":-9.2},

{"p":"b","s":"GA201 IgG","x":0.03,"y":0},{"p":"b","s":"GA201 IgG","x":0.3,"y":-1.5},{"p":"b","s":"GA201 IgG","x":1,"y":-1.5},{"p":"b","s":"GA201 IgG","x":3,"y":-0.5},{"p":"b","s":"GA201 IgG","x":10,"y":1.5},{"p":"b","s":"GA201 IgG","x":30,"y":4},{"p":"b","s":"GA201 IgG","x":100,"y":8},{"p":"b","s":"GA201 IgG","x":200,"y":11},
{"p":"b","s":"Cetuximab IgG","x":0.03,"y":2},{"p":"b","s":"Cetuximab IgG","x":0.3,"y":4.5},{"p":"b","s":"Cetuximab IgG","x":3,"y":7.5},{"p":"b","s":"Cetuximab IgG","x":30,"y":11.5},{"p":"b","s":"Cetuximab IgG","x":200,"y":15},
{"p":"b","s":"GA201 IgG+Cetuximab IgG","x":0.03,"y":-6},{"p":"b","s":"GA201 IgG+Cetuximab IgG","x":0.15,"y":-6},{"p":"b","s":"GA201 IgG+Cetuximab IgG","x":0.2,"y":-3},{"p":"b","s":"GA201 IgG+Cetuximab IgG","x":0.24,"y":10},{"p":"b","s":"GA201 IgG+Cetuximab IgG","x":0.27,"y":30},{"p":"b","s":"GA201 IgG+Cetuximab IgG","x":0.32,"y":55},{"p":"b","s":"GA201 IgG+Cetuximab IgG","x":0.4,"y":75},{"p":"b","s":"GA201 IgG+Cetuximab IgG","x":0.5,"y":88},{"p":"b","s":"GA201 IgG+Cetuximab IgG","x":0.7,"y":95},{"p":"b","s":"GA201 IgG+Cetuximab IgG","x":1,"y":97.5},{"p":"b","s":"GA201 IgG+Cetuximab IgG","x":200,"y":98},
{"p":"b","s":"NMGC IgG","x":0.03,"y":3},{"p":"b","s":"NMGC IgG","x":0.1,"y":0},{"p":"b","s":"NMGC IgG","x":0.3,"y":-3},{"p":"b","s":"NMGC IgG","x":1,"y":-5.5},{"p":"b","s":"NMGC IgG","x":3,"y":-7.5},{"p":"b","s":"NMGC IgG","x":10,"y":-8.7},{"p":"b","s":"NMGC IgG","x":30,"y":-9},{"p":"b","s":"NMGC IgG","x":200,"y":-9.2},

{"p":"c","s":"QD6 IgG","x":0.03,"y":-2},{"p":"c","s":"QD6 IgG","x":0.3,"y":0},{"p":"c","s":"QD6 IgG","x":3,"y":3},{"p":"c","s":"QD6 IgG","x":30,"y":5.5},{"p":"c","s":"QD6 IgG","x":200,"y":7},
{"p":"c","s":"GA201 IgG","x":0.03,"y":0},{"p":"c","s":"GA201 IgG","x":0.3,"y":-1.5},{"p":"c","s":"GA201 IgG","x":1,"y":-1.5},{"p":"c","s":"GA201 IgG","x":3,"y":-0.5},{"p":"c","s":"GA201 IgG","x":10,"y":1.5},{"p":"c","s":"GA201 IgG","x":30,"y":4},{"p":"c","s":"GA201 IgG","x":100,"y":8},{"p":"c","s":"GA201 IgG","x":200,"y":11},
{"p":"c","s":"QD6 IgG+GA201 IgG","x":0.03,"y":-1.5},{"p":"c","s":"QD6 IgG+GA201 IgG","x":1,"y":1},{"p":"c","s":"QD6 IgG+GA201 IgG","x":10,"y":3.5},{"p":"c","s":"QD6 IgG+GA201 IgG","x":200,"y":7.5},
{"p":"c","s":"NMGC IgG","x":0.03,"y":3},{"p":"c","s":"NMGC IgG","x":0.1,"y":0},{"p":"c","s":"NMGC IgG","x":0.3,"y":-3},{"p":"c","s":"NMGC IgG","x":1,"y":-5.5},{"p":"c","s":"NMGC IgG","x":3,"y":-7.5},{"p":"c","s":"NMGC IgG","x":10,"y":-8.7},{"p":"c","s":"NMGC IgG","x":30,"y":-9},{"p":"c","s":"NMGC IgG","x":200,"y":-9.2},

{"p":"d","s":"QD6/NMGC DuetMab","x":0.03,"y":-6},{"p":"d","s":"QD6/NMGC DuetMab","x":0.2,"y":-6},{"p":"d","s":"QD6/NMGC DuetMab","x":0.35,"y":-5},{"p":"d","s":"QD6/NMGC DuetMab","x":0.5,"y":-1},{"p":"d","s":"QD6/NMGC DuetMab","x":0.7,"y":12},{"p":"d","s":"QD6/NMGC DuetMab","x":0.9,"y":30},{"p":"d","s":"QD6/NMGC DuetMab","x":1.1,"y":48},{"p":"d","s":"QD6/NMGC DuetMab","x":1.4,"y":65},{"p":"d","s":"QD6/NMGC DuetMab","x":1.8,"y":76},{"p":"d","s":"QD6/NMGC DuetMab","x":2.5,"y":82},{"p":"d","s":"QD6/NMGC DuetMab","x":4,"y":84.5},{"p":"d","s":"QD6/NMGC DuetMab","x":10,"y":85},{"p":"d","s":"QD6/NMGC DuetMab","x":200,"y":85},
{"p":"d","s":"Cetuximab/NMGC DuetMab","x":0.03,"y":-7},{"p":"d","s":"Cetuximab/NMGC DuetMab","x":1,"y":-6.5},{"p":"d","s":"Cetuximab/NMGC DuetMab","x":1.5,"y":-4},{"p":"d","s":"Cetuximab/NMGC DuetMab","x":2,"y":2},{"p":"d","s":"Cetuximab/NMGC DuetMab","x":2.5,"y":10},{"p":"d","s":"Cetuximab/NMGC DuetMab","x":3,"y":20},{"p":"d","s":"Cetuximab/NMGC DuetMab","x":4,"y":36},{"p":"d","s":"Cetuximab/NMGC DuetMab","x":5,"y":50},{"p":"d","s":"Cetuximab/NMGC DuetMab","x":7,"y":64},{"p":"d","s":"Cetuximab/NMGC DuetMab","x":10,"y":71},{"p":"d","s":"Cetuximab/NMGC DuetMab","x":20,"y":76},{"p":"d","s":"Cetuximab/NMGC DuetMab","x":50,"y":77},{"p":"d","s":"Cetuximab/NMGC DuetMab","x":200,"y":77},
{"p":"d","s":"QD6/NMGCC DuetMab+etuximab/NMGC DuetMab","x":0.03,"y":-7},{"p":"d","s":"QD6/NMGCC DuetMab+etuximab/NMGC DuetMab","x":0.35,"y":-6.5},{"p":"d","s":"QD6/NMGCC DuetMab+etuximab/NMGC DuetMab","x":0.5,"y":-5},{"p":"d","s":"QD6/NMGCC DuetMab+etuximab/NMGC DuetMab","x":0.7,"y":5},{"p":"d","s":"QD6/NMGCC DuetMab+etuximab/NMGC DuetMab","x":0.9,"y":25},{"p":"d","s":"QD6/NMGCC DuetMab+etuximab/NMGC DuetMab","x":1.1,"y":48},{"p":"d","s":"QD6/NMGCC DuetMab+etuximab/NMGC DuetMab","x":1.4,"y":70},{"p":"d","s":"QD6/NMGCC DuetMab+etuximab/NMGC DuetMab","x":1.8,"y":85},{"p":"d","s":"QD6/NMGCC DuetMab+etuximab/NMGC DuetMab","x":2.5,"y":92},{"p":"d","s":"QD6/NMGCC DuetMab+etuximab/NMGC DuetMab","x":4,"y":94.5},{"p":"d","s":"QD6/NMGCC DuetMab+etuximab/NMGC DuetMab","x":10,"y":95},{"p":"d","s":"QD6/NMGCC DuetMab+etuximab/NMGC DuetMab","x":200,"y":95},
{"p":"d","s":"NMGC IgG","x":0.03,"y":3},{"p":"d","s":"NMGC IgG","x":0.1,"y":0},{"p":"d","s":"NMGC IgG","x":0.3,"y":-3},{"p":"d","s":"NMGC IgG","x":1,"y":-5.5},{"p":"d","s":"NMGC IgG","x":3,"y":-7.5},{"p":"d","s":"NMGC IgG","x":10,"y":-8.7},{"p":"d","s":"NMGC IgG","x":30,"y":-9},{"p":"d","s":"NMGC IgG","x":200,"y":-9.2},

{"p":"e","s":"GA201/NMGC DuetMab","x":0.03,"y":-6},{"p":"e","s":"GA201/NMGC DuetMab","x":0.5,"y":-5.5},{"p":"e","s":"GA201/NMGC DuetMab","x":1,"y":-3},{"p":"e","s":"GA201/NMGC DuetMab","x":1.5,"y":4},{"p":"e","s":"GA201/NMGC DuetMab","x":2,"y":14},{"p":"e","s":"GA201/NMGC DuetMab","x":2.5,"y":25},{"p":"e","s":"GA201/NMGC DuetMab","x":3,"y":33},{"p":"e","s":"GA201/NMGC DuetMab","x":4,"y":46},{"p":"e","s":"GA201/NMGC DuetMab","x":5,"y":53},{"p":"e","s":"GA201/NMGC DuetMab","x":7,"y":58},{"p":"e","s":"GA201/NMGC DuetMab","x":10,"y":61},{"p":"e","s":"GA201/NMGC DuetMab","x":30,"y":62},{"p":"e","s":"GA201/NMGC DuetMab","x":200,"y":62},
{"p":"e","s":"Cetuximab/NMGC DuetMab","x":0.03,"y":-7},{"p":"e","s":"Cetuximab/NMGC DuetMab","x":1,"y":-6.5},{"p":"e","s":"Cetuximab/NMGC DuetMab","x":1.5,"y":-4},{"p":"e","s":"Cetuximab/NMGC DuetMab","x":2,"y":2},{"p":"e","s":"Cetuximab/NMGC DuetMab","x":2.5,"y":10},{"p":"e","s":"Cetuximab/NMGC DuetMab","x":3,"y":20},{"p":"e","s":"Cetuximab/NMGC DuetMab","x":4,"y":36},{"p":"e","s":"Cetuximab/NMGC DuetMab","x":5,"y":50},{"p":"e","s":"Cetuximab/NMGC DuetMab","x":7,"y":64},{"p":"e","s":"Cetuximab/NMGC DuetMab","x":10,"y":71},{"p":"e","s":"Cetuximab/NMGC DuetMab","x":20,"y":76},{"p":"e","s":"Cetuximab/NMGC DuetMab","x":50,"y":77},{"p":"e","s":"Cetuximab/NMGC DuetMab","x":200,"y":77},
{"p":"e","s":"GA201/NMGC DuetMab+Cetuximab/NMGC DuetMab","x":0.03,"y":-6},{"p":"e","s":"GA201/NMGC DuetMab+Cetuximab/NMGC DuetMab","x":0.4,"y":-6},{"p":"e","s":"GA201/NMGC DuetMab+Cetuximab/NMGC DuetMab","x":0.6,"y":-3},{"p":"e","s":"GA201/NMGC DuetMab+Cetuximab/NMGC DuetMab","x":0.8,"y":8},{"p":"e","s":"GA201/NMGC DuetMab+Cetuximab/NMGC DuetMab","x":1,"y":22},{"p":"e","s":"GA201/NMGC DuetMab+Cetuximab/NMGC DuetMab","x":1.3,"y":45},{"p":"e","s":"GA201/NMGC DuetMab+Cetuximab/NMGC DuetMab","x":1.7,"y":65},{"p":"e","s":"GA201/NMGC DuetMab+Cetuximab/NMGC DuetMab","x":2.2,"y":78},{"p":"e","s":"GA201/NMGC DuetMab+Cetuximab/NMGC DuetMab","x":3,"y":87},{"p":"e","s":"GA201/NMGC DuetMab+Cetuximab/NMGC DuetMab","x":5,"y":92},{"p":"e","s":"GA201/NMGC DuetMab+Cetuximab/NMGC DuetMab","x":10,"y":93},{"p":"e","s":"GA201/NMGC DuetMab+Cetuximab/NMGC DuetMab","x":200,"y":93},
{"p":"e","s":"NMGC IgG","x":0.03,"y":3},{"p":"e","s":"NMGC IgG","x":0.1,"y":0},{"p":"e","s":"NMGC IgG","x":0.3,"y":-3},{"p":"e","s":"NMGC IgG","x":1,"y":-5.5},{"p":"e","s":"NMGC IgG","x":3,"y":-7.5},{"p":"e","s":"NMGC IgG","x":10,"y":-8.7},{"p":"e","s":"NMGC IgG","x":30,"y":-9},{"p":"e","s":"NMGC IgG","x":200,"y":-9.2},

{"p":"f","s":"QD6/NMGC DuetMab","x":0.03,"y":-6},{"p":"f","s":"QD6/NMGC DuetMab","x":0.2,"y":-6},{"p":"f","s":"QD6/NMGC DuetMab","x":0.35,"y":-5},{"p":"f","s":"QD6/NMGC DuetMab","x":0.5,"y":-1},{"p":"f","s":"QD6/NMGC DuetMab","x":0.7,"y":12},{"p":"f","s":"QD6/NMGC DuetMab","x":0.9,"y":30},{"p":"f","s":"QD6/NMGC DuetMab","x":1.1,"y":48},{"p":"f","s":"QD6/NMGC DuetMab","x":1.4,"y":65},{"p":"f","s":"QD6/NMGC DuetMab","x":1.8,"y":76},{"p":"f","s":"QD6/NMGC DuetMab","x":2.5,"y":82},{"p":"f","s":"QD6/NMGC DuetMab","x":4,"y":84.5},{"p":"f","s":"QD6/NMGC DuetMab","x":10,"y":85},{"p":"f","s":"QD6/NMGC DuetMab","x":200,"y":85},
{"p":"f","s":"GA201/NMGC DuetMab","x":0.03,"y":-6},{"p":"f","s":"GA201/NMGC DuetMab","x":0.5,"y":-5.5},{"p":"f","s":"GA201/NMGC DuetMab","x":1,"y":-3},{"p":"f","s":"GA201/NMGC DuetMab","x":1.5,"y":4},{"p":"f","s":"GA201/NMGC DuetMab","x":2,"y":14},{"p":"f","s":"GA201/NMGC DuetMab","x":2.5,"y":25},{"p":"f","s":"GA201/NMGC DuetMab","x":3,"y":33},{"p":"f","s":"GA201/NMGC DuetMab","x":4,"y":46},{"p":"f","s":"GA201/NMGC DuetMab","x":5,"y":53},{"p":"f","s":"GA201/NMGC DuetMab","x":7,"y":58},{"p":"f","s":"GA201/NMGC DuetMab","x":10,"y":61},{"p":"f","s":"GA201/NMGC DuetMab","x":30,"y":62},{"p":"f","s":"GA201/NMGC DuetMab","x":200,"y":62},
{"p":"f","s":"QD6/NMGC DuetMab+GA201/NMGC DuetMab","x":0.03,"y":-10},{"p":"f","s":"QD6/NMGC DuetMab+GA201/NMGC DuetMab","x":1,"y":-10},{"p":"f","s":"QD6/NMGC DuetMab+GA201/NMGC DuetMab","x":1.5,"y":-7},{"p":"f","s":"QD6/NMGC DuetMab+GA201/NMGC DuetMab","x":2,"y":-2},{"p":"f","s":"QD6/NMGC DuetMab+GA201/NMGC DuetMab","x":2.5,"y":8},{"p":"f","s":"QD6/NMGC DuetMab+GA201/NMGC DuetMab","x":3,"y":22},{"p":"f","s":"QD6/NMGC DuetMab+GA201/NMGC DuetMab","x":4,"y":45},{"p":"f","s":"QD6/NMGC DuetMab+GA201/NMGC DuetMab","x":5,"y":60},{"p":"f","s":"QD6/NMGC DuetMab+GA201/NMGC DuetMab","x":7,"y":78},{"p":"f","s":"QD6/NMGC DuetMab+GA201/NMGC DuetMab","x":10,"y":88},{"p":"f","s":"QD6/NMGC DuetMab+GA201/NMGC DuetMab","x":20,"y":93},{"p":"f","s":"QD6/NMGC DuetMab+GA201/NMGC DuetMab","x":200,"y":94},
{"p":"f","s":"NMGC IgG","x":0.03,"y":3},{"p":"f","s":"NMGC IgG","x":0.1,"y":0},{"p":"f","s":"NMGC IgG","x":0.3,"y":-3},{"p":"f","s":"NMGC IgG","x":1,"y":-5.5},{"p":"f","s":"NMGC IgG","x":3,"y":-7.5},{"p":"f","s":"NMGC IgG","x":10,"y":-8.7},{"p":"f","s":"NMGC IgG","x":30,"y":-9},{"p":"f","s":"NMGC IgG","x":200,"y":-9.2},

{"p":"g","s":"Trastuzumab IgG","x":0.03,"y":2},{"p":"g","s":"Trastuzumab IgG","x":0.25,"y":2},{"p":"g","s":"Trastuzumab IgG","x":0.35,"y":5},{"p":"g","s":"Trastuzumab IgG","x":0.45,"y":12},{"p":"g","s":"Trastuzumab IgG","x":0.55,"y":19},{"p":"g","s":"Trastuzumab IgG","x":0.7,"y":23.5},{"p":"g","s":"Trastuzumab IgG","x":1,"y":25.5},{"p":"g","s":"Trastuzumab IgG","x":2,"y":26},{"p":"g","s":"Trastuzumab IgG","x":200,"y":26.5},
{"p":"g","s":"Pertuzumab IgG","x":0.03,"y":2.5},{"p":"g","s":"Pertuzumab IgG","x":200,"y":2},
{"p":"g","s":"Trastuzumab IgG+Pertuzumab IgG","x":0.03,"y":2},{"p":"g","s":"Trastuzumab IgG+Pertuzumab IgG","x":0.25,"y":2.5},{"p":"g","s":"Trastuzumab IgG+Pertuzumab IgG","x":0.35,"y":10},{"p":"g","s":"Trastuzumab IgG+Pertuzumab IgG","x":0.45,"y":25},{"p":"g","s":"Trastuzumab IgG+Pertuzumab IgG","x":0.6,"y":45},{"p":"g","s":"Trastuzumab IgG+Pertuzumab IgG","x":0.8,"y":62},{"p":"g","s":"Trastuzumab IgG+Pertuzumab IgG","x":1,"y":75},{"p":"g","s":"Trastuzumab IgG+Pertuzumab IgG","x":1.5,"y":90},{"p":"g","s":"Trastuzumab IgG+Pertuzumab IgG","x":2,"y":95},{"p":"g","s":"Trastuzumab IgG+Pertuzumab IgG","x":3,"y":97.5},{"p":"g","s":"Trastuzumab IgG+Pertuzumab IgG","x":10,"y":98.5},{"p":"g","s":"Trastuzumab IgG+Pertuzumab IgG","x":200,"y":98.5},
{"p":"g","s":"NMGC IgG","x":0.03,"y":-1},{"p":"g","s":"NMGC IgG","x":0.1,"y":0},{"p":"g","s":"NMGC IgG","x":0.3,"y":1.5},{"p":"g","s":"NMGC IgG","x":1,"y":3},{"p":"g","s":"NMGC IgG","x":3,"y":4.5},{"p":"g","s":"NMGC IgG","x":10,"y":6},{"p":"g","s":"NMGC IgG","x":30,"y":7.5},{"p":"g","s":"NMGC IgG","x":100,"y":9},{"p":"g","s":"NMGC IgG","x":200,"y":10},

{"p":"h","s":"Trastuzumab IgG","x":0.03,"y":2},{"p":"h","s":"Trastuzumab IgG","x":0.25,"y":2},{"p":"h","s":"Trastuzumab IgG","x":0.35,"y":5},{"p":"h","s":"Trastuzumab IgG","x":0.45,"y":12},{"p":"h","s":"Trastuzumab IgG","x":0.55,"y":19},{"p":"h","s":"Trastuzumab IgG","x":0.7,"y":23.5},{"p":"h","s":"Trastuzumab IgG","x":1,"y":25.5},{"p":"h","s":"Trastuzumab IgG","x":2,"y":26},{"p":"h","s":"Trastuzumab IgG","x":200,"y":26.5},
{"p":"h","s":"B1D2 IgG","x":0.03,"y":-6},{"p":"h","s":"B1D2 IgG","x":0.3,"y":-5},{"p":"h","s":"B1D2 IgG","x":1,"y":-3.5},{"p":"h","s":"B1D2 IgG","x":3,"y":-2},{"p":"h","s":"B1D2 IgG","x":10,"y":-0.5},{"p":"h","s":"B1D2 IgG","x":30,"y":0.5},{"p":"h","s":"B1D2 IgG","x":200,"y":1.5},
{"p":"h","s":"Trastuzumab IgG+B1D2 IgG","x":0.03,"y":-7},{"p":"h","s":"Trastuzumab IgG+B1D2 IgG","x":0.15,"y":-7},{"p":"h","s":"Trastuzumab IgG+B1D2 IgG","x":0.2,"y":-3},{"p":"h","s":"Trastuzumab IgG+B1D2 IgG","x":0.3,"y":10},{"p":"h","s":"Trastuzumab IgG+B1D2 IgG","x":0.4,"y":25},{"p":"h","s":"Trastuzumab IgG+B1D2 IgG","x":0.55,"y":44},{"p":"h","s":"Trastuzumab IgG+B1D2 IgG","x":0.7,"y":57},{"p":"h","s":"Trastuzumab IgG+B1D2 IgG","x":1,"y":72},{"p":"h","s":"Trastuzumab IgG+B1D2 IgG","x":1.5,"y":84},{"p":"h","s":"Trastuzumab IgG+B1D2 IgG","x":2.5,"y":90},{"p":"h","s":"Trastuzumab IgG+B1D2 IgG","x":5,"y":93},{"p":"h","s":"Trastuzumab IgG+B1D2 IgG","x":200,"y":93.5},
{"p":"h","s":"NMGC IgG","x":0.03,"y":-1},{"p":"h","s":"NMGC IgG","x":0.1,"y":0},{"p":"h","s":"NMGC IgG","x":0.3,"y":1.5},{"p":"h","s":"NMGC IgG","x":1,"y":3},{"p":"h","s":"NMGC IgG","x":3,"y":4.5},{"p":"h","s":"NMGC IgG","x":10,"y":6},{"p":"h","s":"NMGC IgG","x":30,"y":7.5},{"p":"h","s":"NMGC IgG","x":100,"y":9},{"p":"h","s":"NMGC IgG","x":200,"y":10},

{"p":"i","s":"Pertuzumab IgG","x":0.03,"y":2.5},{"p":"i","s":"Pertuzumab IgG","x":200,"y":2},
{"p":"i","s":"B1D2 IgG","x":0.03,"y":-6},{"p":"i","s":"B1D2 IgG","x":0.3,"y":-5},{"p":"i","s":"B1D2 IgG","x":1,"y":-3.5},{"p":"i","s":"B1D2 IgG","x":3,"y":-2},{"p":"i","s":"B1D2 IgG","x":10,"y":-0.5},{"p":"i","s":"B1D2 IgG","x":30,"y":0.5},{"p":"i","s":"B1D2 IgG","x":200,"y":1.5},
{"p":"i","s":"Pertuzumab IgG+B1D2 IgG","x":0.03,"y":3},{"p":"i","s":"Pertuzumab IgG+B1D2 IgG","x":200,"y":3},
{"p":"i","s":"NMGC IgG","x":0.03,"y":-1},{"p":"i","s":"NMGC IgG","x":0.1,"y":0},{"p":"i","s":"NMGC IgG","x":0.3,"y":1.5},{"p":"i","s":"NMGC IgG","x":1,"y":3},{"p":"i","s":"NMGC IgG","x":3,"y":4.5},{"p":"i","s":"NMGC IgG","x":10,"y":6},{"p":"i","s":"NMGC IgG","x":30,"y":7.5},{"p":"i","s":"NMGC IgG","x":100,"y":9},{"p":"i","s":"NMGC IgG","x":200,"y":10},

{"p":"j","s":"Trastuzumab/NMGC DuetMab","x":0.03,"y":-3},{"p":"j","s":"Trastuzumab/NMGC DuetMab","x":0.5,"y":-2.5},{"p":"j","s":"Trastuzumab/NMGC DuetMab","x":1,"y":2.5},{"p":"j","s":"Trastuzumab/NMGC DuetMab","x":1.5,"y":9},{"p":"j","s":"Trastuzumab/NMGC DuetMab","x":2,"y":17},{"p":"j","s":"Trastuzumab/NMGC DuetMab","x":2.5,"y":25},{"p":"j","s":"Trastuzumab/NMGC DuetMab","x":3,"y":33},{"p":"j","s":"Trastuzumab/NMGC DuetMab","x":4,"y":47},{"p":"j","s":"Trastuzumab/NMGC DuetMab","x":5,"y":58},{"p":"j","s":"Trastuzumab/NMGC DuetMab","x":7,"y":73},{"p":"j","s":"Trastuzumab/NMGC DuetMab","x":10,"y":83},{"p":"j","s":"Trastuzumab/NMGC DuetMab","x":20,"y":93},{"p":"j","s":"Trastuzumab/NMGC DuetMab","x":50,"y":96.5},{"p":"j","s":"Trastuzumab/NMGC DuetMab","x":200,"y":97.5},
{"p":"j","s":"Pertuzumab/NMGC DuetMab","x":0.03,"y":-5},{"p":"j","s":"Pertuzumab/NMGC DuetMab","x":1,"y":-4},{"p":"j","s":"Pertuzumab/NMGC DuetMab","x":1.5,"y":-1},{"p":"j","s":"Pertuzumab/NMGC DuetMab","x":2,"y":4},{"p":"j","s":"Pertuzumab/NMGC DuetMab","x":2.5,"y":10},{"p":"j","s":"Pertuzumab/NMGC DuetMab","x":3,"y":16},{"p":"j","s":"Pertuzumab/NMGC DuetMab","x":4,"y":27},{"p":"j","s":"Pertuzumab/NMGC DuetMab","x":5,"y":36},{"p":"j","s":"Pertuzumab/NMGC DuetMab","x":7,"y":48},{"p":"j","s":"Pertuzumab/NMGC DuetMab","x":10,"y":57},{"p":"j","s":"Pertuzumab/NMGC DuetMab","x":20,"y":65},{"p":"j","s":"Pertuzumab/NMGC DuetMab","x":50,"y":68.5},{"p":"j","s":"Pertuzumab/NMGC DuetMab","x":200,"y":69},
{"p":"j","s":"Trastuzumab/NMGC DuetMab+Pertuzumab/NMGC DuetMab","x":0.03,"y":-4},{"p":"j","s":"Trastuzumab/NMGC DuetMab+Pertuzumab/NMGC DuetMab","x":0.3,"y":-3.5},{"p":"j","s":"Trastuzumab/NMGC DuetMab+Pertuzumab/NMGC DuetMab","x":0.5,"y":-1},{"p":"j","s":"Trastuzumab/NMGC DuetMab+Pertuzumab/NMGC DuetMab","x":0.8,"y":7},{"p":"j","s":"Trastuzumab/NMGC DuetMab+Pertuzumab/NMGC DuetMab","x":1,"y":14},{"p":"j","s":"Trastuzumab/NMGC DuetMab+Pertuzumab/NMGC DuetMab","x":1.5,"y":30},{"p":"j","s":"Trastuzumab/NMGC DuetMab+Pertuzumab/NMGC DuetMab","x":2,"y":44},{"p":"j","s":"Trastuzumab/NMGC DuetMab+Pertuzumab/NMGC DuetMab","x":2.5,"y":54},{"p":"j","s":"Trastuzumab/NMGC DuetMab+Pertuzumab/NMGC DuetMab","x":3,"y":62},{"p":"j","s":"Trastuzumab/NMGC DuetMab+Pertuzumab/NMGC DuetMab","x":4,"y":73},{"p":"j","s":"Trastuzumab/NMGC DuetMab+Pertuzumab/NMGC DuetMab","x":5,"y":80},{"p":"j","s":"Trastuzumab/NMGC DuetMab+Pertuzumab/NMGC DuetMab","x":7,"y":88},{"p":"j","s":"Trastuzumab/NMGC DuetMab+Pertuzumab/NMGC DuetMab","x":10,"y":93},{"p":"j","s":"Trastuzumab/NMGC DuetMab+Pertuzumab/NMGC DuetMab","x":20,"y":96},{"p":"j","s":"Trastuzumab/NMGC DuetMab+Pertuzumab/NMGC DuetMab","x":200,"y":97.5},
{"p":"j","s":"NMGC IgG","x":0.03,"y":-1.5},{"p":"j","s":"NMGC IgG","x":0.1,"y":0},{"p":"j","s":"NMGC IgG","x":0.3,"y":1.5},{"p":"j","s":"NMGC IgG","x":1,"y":3},{"p":"j","s":"NMGC IgG","x":3,"y":4.5},{"p":"j","s":"NMGC IgG","x":10,"y":6},{"p":"j","s":"NMGC IgG","x":30,"y":7.5},{"p":"j","s":"NMGC IgG","x":100,"y":9},{"p":"j","s":"NMGC IgG","x":200,"y":10},

{"p":"k","s":"Trastuzumab/NMGC DuetMab","x":0.03,"y":0},{"p":"k","s":"Trastuzumab/NMGC DuetMab","x":0.3,"y":0.5},{"p":"k","s":"Trastuzumab/NMGC DuetMab","x":1,"y":3},{"p":"k","s":"Trastuzumab/NMGC DuetMab","x":1.5,"y":8},{"p":"k","s":"Trastuzumab/NMGC DuetMab","x":2,"y":15},{"p":"k","s":"Trastuzumab/NMGC DuetMab","x":3,"y":32},{"p":"k","s":"Trastuzumab/NMGC DuetMab","x":4,"y":46},{"p":"k","s":"Trastuzumab/NMGC DuetMab","x":5,"y":57},{"p":"k","s":"Trastuzumab/NMGC DuetMab","x":7,"y":72},{"p":"k","s":"Trastuzumab/NMGC DuetMab","x":10,"y":83},{"p":"k","s":"Trastuzumab/NMGC DuetMab","x":20,"y":93},{"p":"k","s":"Trastuzumab/NMGC DuetMab","x":50,"y":96.5},{"p":"k","s":"Trastuzumab/NMGC DuetMab","x":200,"y":97.5},
{"p":"k","s":"B1D2/NMGC DuetMab","x":0.03,"y":6},{"p":"k","s":"B1D2/NMGC DuetMab","x":5,"y":6.5},{"p":"k","s":"B1D2/NMGC DuetMab","x":7,"y":8},{"p":"k","s":"B1D2/NMGC DuetMab","x":10,"y":15},{"p":"k","s":"B1D2/NMGC DuetMab","x":15,"y":28},{"p":"k","s":"B1D2/NMGC DuetMab","x":20,"y":40},{"p":"k","s":"B1D2/NMGC DuetMab","x":30,"y":55},{"p":"k","s":"B1D2/NMGC DuetMab","x":50,"y":68},{"p":"k","s":"B1D2/NMGC DuetMab","x":100,"y":73},{"p":"k","s":"B1D2/NMGC DuetMab","x":200,"y":74},
{"p":"k","s":"Trastuzumab/NMGC DuetMab+B1D2/NMGC DuetMab","x":0.03,"y":6},{"p":"k","s":"Trastuzumab/NMGC DuetMab+B1D2/NMGC DuetMab","x":0.1,"y":6.5},{"p":"k","s":"Trastuzumab/NMGC DuetMab+B1D2/NMGC DuetMab","x":0.3,"y":8},{"p":"k","s":"Trastuzumab/NMGC DuetMab+B1D2/NMGC DuetMab","x":0.5,"y":10},{"p":"k","s":"Trastuzumab/NMGC DuetMab+B1D2/NMGC DuetMab","x":1,"y":15},{"p":"k","s":"Trastuzumab/NMGC DuetMab+B1D2/NMGC DuetMab","x":2,"y":27},{"p":"k","s":"Trastuzumab/NMGC DuetMab+B1D2/NMGC DuetMab","x":3,"y":38},{"p":"k","s":"Trastuzumab/NMGC DuetMab+B1D2/NMGC DuetMab","x":5,"y":55},{"p":"k","s":"Trastuzumab/NMGC DuetMab+B1D2/NMGC DuetMab","x":7,"y":66},{"p":"k","s":"Trastuzumab/NMGC DuetMab+B1D2/NMGC DuetMab","x":10,"y":76},{"p":"k","s":"Trastuzumab/NMGC DuetMab+B1D2/NMGC DuetMab","x":20,"y":88},{"p":"k","s":"Trastuzumab/NMGC DuetMab+B1D2/NMGC DuetMab","x":50,"y":95},{"p":"k","s":"Trastuzumab/NMGC DuetMab+B1D2/NMGC DuetMab","x":100,"y":97},{"p":"k","s":"Trastuzumab/NMGC DuetMab+B1D2/NMGC DuetMab","x":200,"y":97.5},
{"p":"k","s":"NMGC IgG","x":0.03,"y":-1.5},{"p":"k","s":"NMGC IgG","x":0.1,"y":0},{"p":"k","s":"NMGC IgG","x":0.3,"y":1.5},{"p":"k","s":"NMGC IgG","x":1,"y":3},{"p":"k","s":"NMGC IgG","x":3,"y":4.5},{"p":"k","s":"NMGC IgG","x":10,"y":6},{"p":"k","s":"NMGC IgG","x":30,"y":7.5},{"p":"k","s":"NMGC IgG","x":100,"y":9},{"p":"k","s":"NMGC IgG","x":200,"y":10},

{"p":"l","s":"Pertuzumab/NMGC DuetMab","x":0.03,"y":-5},{"p":"l","s":"Pertuzumab/NMGC DuetMab","x":1,"y":-4},{"p":"l","s":"Pertuzumab/NMGC DuetMab","x":1.5,"y":-1},{"p":"l","s":"Pertuzumab/NMGC DuetMab","x":2,"y":4},{"p":"l","s":"Pertuzumab/NMGC DuetMab","x":2.5,"y":10},{"p":"l","s":"Pertuzumab/NMGC DuetMab","x":3,"y":16},{"p":"l","s":"Pertuzumab/NMGC DuetMab","x":4,"y":27},{"p":"l","s":"Pertuzumab/NMGC DuetMab","x":5,"y":36},{"p":"l","s":"Pertuzumab/NMGC DuetMab","x":7,"y":48},{"p":"l","s":"Pertuzumab/NMGC DuetMab","x":10,"y":57},{"p":"l","s":"Pertuzumab/NMGC DuetMab","x":20,"y":65},{"p":"l","s":"Pertuzumab/NMGC DuetMab","x":50,"y":68.5},{"p":"l","s":"Pertuzumab/NMGC DuetMab","x":200,"y":69},
{"p":"l","s":"B1D2/NMGC DuetMab","x":0.03,"y":6},{"p":"l","s":"B1D2/NMGC DuetMab","x":5,"y":6.5},{"p":"l","s":"B1D2/NMGC DuetMab","x":7,"y":8},{"p":"l","s":"B1D2/NMGC DuetMab","x":10,"y":15},{"p":"l","s":"B1D2/NMGC DuetMab","x":15,"y":28},{"p":"l","s":"B1D2/NMGC DuetMab","x":20,"y":40},{"p":"l","s":"B1D2/NMGC DuetMab","x":30,"y":55},{"p":"l","s":"B1D2/NMGC DuetMab","x":50,"y":68},{"p":"l","s":"B1D2/NMGC DuetMab","x":100,"y":73},{"p":"l","s":"B1D2/NMGC DuetMab","x":200,"y":74},
{"p":"l","s":"Pertuzumab/NMGC DuetMab+B1D2/NMGC DuetMab","x":0.03,"y":-1},{"p":"l","s":"Pertuzumab/NMGC DuetMab+B1D2/NMGC DuetMab","x":2,"y":-0.5},{"p":"l","s":"Pertuzumab/NMGC DuetMab+B1D2/NMGC DuetMab","x":3,"y":2},{"p":"l","s":"Pertuzumab/NMGC DuetMab+B1D2/NMGC DuetMab","x":4,"y":8},{"p":"l","s":"Pertuzumab/NMGC DuetMab+B1D2/NMGC DuetMab","x":5,"y":15},{"p":"l","s":"Pertuzumab/NMGC DuetMab+B1D2/NMGC DuetMab","x":7,"y":28},{"p":"l","s":"Pertuzumab/NMGC DuetMab+B1D2/NMGC DuetMab","x":10,"y":43},{"p":"l","s":"Pertuzumab/NMGC DuetMab+B1D2/NMGC DuetMab","x":15,"y":57},{"p":"l","s":"Pertuzumab/NMGC DuetMab+B1D2/NMGC DuetMab","x":20,"y":64},{"p":"l","s":"Pertuzumab/NMGC DuetMab+B1D2/NMGC DuetMab","x":30,"y":70},{"p":"l","s":"Pertuzumab/NMGC DuetMab+B1D2/NMGC DuetMab","x":50,"y":73},{"p":"l","s":"Pertuzumab/NMGC DuetMab+B1D2/NMGC DuetMab","x":200,"y":74},
{"p":"l","s":"NMGC IgG","x":0.03,"y":-1.5},{"p":"l","s":"NMGC IgG","x":0.1,"y":0},{"p":"l","s":"NMGC IgG","x":0.3,"y":1.5},{"p":"l","s":"NMGC IgG","x":1,"y":3},{"p":"l","s":"NMGC IgG","x":3,"y":4.5},{"p":"l","s":"NMGC IgG","x":10,"y":6},{"p":"l","s":"NMGC IgG","x":30,"y":7.5},{"p":"l","s":"NMGC IgG","x":100,"y":9},{"p":"l","s":"NMGC IgG","x":200,"y":10}
]
},
"columns": 3,
"spacing": {"row": 142, "column": 107},
"bounds": "flush",
"align": "all",
"resolve": {"scale": {"x": "independent", "y": "independent", "color": "independent", "stroke": "independent", "fill": "independent", "shape": "independent"}, "legend": {"color": "independent", "stroke": "independent", "fill": "independent", "shape": "independent"}, "axis": {"x": "independent", "y": "independent"}},
"concat": [
{"title": {"text": "a", "dx": -54}, "width": 166, "height": 110, "resolve": {"axis": {"x": "independent"}, "scale": {"stroke": "independent", "fill": "independent", "shape": "independent"}}, "layer": [
 {"data": {"name": "crv"}, "transform": [{"filter": "datum.p==='a'"}], "mark": {"type": "line", "interpolate": "monotone", "strokeWidth": 1.4}, "encoding": {"x": {"field": "x", "type": "quantitative", "scale": {"type": "log", "domain": [0.01, 1000], "nice": false}, "axis": {"orient": "top", "title": "HCC827"}}, "y": {"field": "y", "type": "quantitative", "scale": {"domain": [-20, 100], "nice": false}, "title": "% Cytotoxicity", "axis": {"values": [-20,0,20,40,60,80,100]}}, "color": {"field": "s", "type": "nominal", "scale": {"domain": ["NMGC IgG","QD6 IgG+Cetuxiamb IgG","Cetuximab IgG","QD6 IgG"], "range": ["#111111","#d4762c","#1a6e3a","#b3213b"]}, "legend": null}}},
 {"data": {"name": "pts"}, "transform": [{"filter": "datum.p==='a' && isValid(datum.lo)"}], "mark": {"type": "errorbar", "ticks": true, "thickness": 1.3}, "encoding": {"x": {"field": "x", "type": "quantitative", "scale": {"type": "log", "domain": [0.01, 1000], "nice": false}, "axis": null}, "y": {"field": "lo", "type": "quantitative", "scale": {"domain": [-20, 100], "nice": false}, "title": "% Cytotoxicity", "axis": {"values": [-20,0,20,40,60,80,100]}}, "y2": {"field": "hi"}, "color": {"field": "s", "type": "nominal", "legend": null}}},
 {"data": {"name": "pts"}, "transform": [{"filter": "datum.p==='a'"}], "mark": {"type": "point", "filled": true, "size": 34, "strokeWidth": 1.6, "opacity": 1}, "encoding": {"x": {"field": "x", "type": "quantitative", "scale": {"type": "log", "domain": [0.01, 1000], "nice": false}, "axis": {"values": [0.01,0.1,1,10,100,1000], "title": "[Ab] nM", "labelExpr": "datum.value<0.05?'10⁻²':datum.value<0.5?'10⁻¹':datum.value<5?'10⁰':datum.value<50?'10¹':datum.value<500?'10²':'10³'"}}, "y": {"field": "y", "type": "quantitative", "scale": {"domain": [-20, 100], "nice": false}, "title": "% Cytotoxicity", "axis": {"values": [-20,0,20,40,60,80,100]}},
  "stroke": {"field": "s", "type": "nominal", "legend": null, "scale": {"domain": ["QD6 IgG","Cetuximab IgG","QD6 IgG+Cetuxiamb IgG","NMGC IgG"], "range": ["#b3213b","#1a6e3a","#d4762c","#111111"]}},
  "fill": {"field": "s", "type": "nominal", "legend": null, "scale": {"domain": ["QD6 IgG","Cetuximab IgG","QD6 IgG+Cetuxiamb IgG","NMGC IgG"], "range": ["#b3213b","#1a6e3a","#ffffff","#111111"]}},
  "shape": {"field": "s", "type": "nominal", "legend": null, "scale": {"domain": ["QD6 IgG","Cetuximab IgG","QD6 IgG+Cetuxiamb IgG","NMGC IgG"], "range": ["square","triangle-down","diamond","circle"]}}}},
 {"data": {"name": "pts"}, "transform": [{"filter": "false"}], "mark": {"type": "point", "filled": true, "size": 34, "strokeWidth": 1.6, "opacity": 1}, "encoding": {"x": {"field": "x", "type": "quantitative", "scale": {"type": "log", "domain": [0.01, 1000], "nice": false}, "axis": null}, "y": {"field": "y", "type": "quantitative", "scale": {"domain": [-20, 100], "nice": false}, "title": "% Cytotoxicity", "axis": {"values": [-20,0,20,40,60,80,100]}},
  "stroke": {"field": "s", "type": "nominal", "title": null, "scale": {"domain": ["QD6 IgG","Cetuximab IgG","QD6 IgG+Cetuxiamb IgG","NMGC IgG"], "range": ["#b3213b","#1a6e3a","#d4762c","#111111"]}, "legend": {"orient": "none", "legendX": 20, "legendY": 143}},
  "fill": {"field": "s", "type": "nominal", "title": null, "scale": {"domain": ["QD6 IgG","Cetuximab IgG","QD6 IgG+Cetuxiamb IgG","NMGC IgG"], "range": ["#b3213b","#1a6e3a","#ffffff","#111111"]}},
  "shape": {"field": "s", "type": "nominal", "title": null, "scale": {"domain": ["QD6 IgG","Cetuximab IgG","QD6 IgG+Cetuxiamb IgG","NMGC IgG"], "range": ["M-2.6,0H-0.9M0.9,0H2.6M-0.9,-0.9H0.9V0.9H-0.9Z","M-2.6,0H-0.55M0.55,0H2.6M-1,-0.8H1L0,0.95Z","M-2.6,0H-1.15M1.15,0H2.6M0,-1.15L1.15,0L0,1.15L-1.15,0Z","M-2.6,0H-1M1,0H2.6M-1,0A1,1 0 1,1 1,0A1,1 0 1,1 -1,0Z"]}}}}
]},
{"title": {"text": "b", "dx": -53}, "width": 166, "height": 110, "resolve": {"axis": {"x": "independent"}, "scale": {"stroke": "independent", "fill": "independent", "shape": "independent"}}, "layer": [
 {"data": {"name": "crv"}, "transform": [{"filter": "datum.p==='b'"}], "mark": {"type": "line", "interpolate": "monotone", "strokeWidth": 1.4}, "encoding": {"x": {"field": "x", "type": "quantitative", "scale": {"type": "log", "domain": [0.01, 1000], "nice": false}, "axis": {"orient": "top", "title": "HCC827"}}, "y": {"field": "y", "type": "quantitative", "scale": {"domain": [-20, 100], "nice": false}, "title": "% Cytotoxicity", "axis": {"values": [-20,0,20,40,60,80,100]}}, "color": {"field": "s", "type": "nominal", "scale": {"domain": ["NMGC IgG","GA201 IgG+Cetuximab IgG","Cetuximab IgG","GA201 IgG"], "range": ["#111111","#f28c28","#1a6e3a","#7b2f98"]}, "legend": null}}},
 {"data": {"name": "pts"}, "transform": [{"filter": "datum.p==='b' && isValid(datum.lo)"}], "mark": {"type": "errorbar", "ticks": true, "thickness": 1.3}, "encoding": {"x": {"field": "x", "type": "quantitative", "scale": {"type": "log", "domain": [0.01, 1000], "nice": false}, "axis": null}, "y": {"field": "lo", "type": "quantitative", "scale": {"domain": [-20, 100], "nice": false}, "title": "% Cytotoxicity", "axis": {"values": [-20,0,20,40,60,80,100]}}, "y2": {"field": "hi"}, "color": {"field": "s", "type": "nominal", "legend": null}}},
 {"data": {"name": "pts"}, "transform": [{"filter": "datum.p==='b'"}], "mark": {"type": "point", "filled": true, "size": 34, "strokeWidth": 1.6, "opacity": 1}, "encoding": {"x": {"field": "x", "type": "quantitative", "scale": {"type": "log", "domain": [0.01, 1000], "nice": false}, "axis": {"values": [0.01,0.1,1,10,100,1000], "title": "[Ab] nM", "labelExpr": "datum.value<0.05?'10⁻²':datum.value<0.5?'10⁻¹':datum.value<5?'10⁰':datum.value<50?'10¹':datum.value<500?'10²':'10³'"}}, "y": {"field": "y", "type": "quantitative", "scale": {"domain": [-20, 100], "nice": false}, "title": "% Cytotoxicity", "axis": {"values": [-20,0,20,40,60,80,100]}},
  "stroke": {"field": "s", "type": "nominal", "legend": null, "scale": {"domain": ["GA201 IgG","Cetuximab IgG","GA201 IgG+Cetuximab IgG","NMGC IgG"], "range": ["#7b2f98","#1a6e3a","#f28c28","#111111"]}},
  "fill": {"field": "s", "type": "nominal", "legend": null, "scale": {"domain": ["GA201 IgG","Cetuximab IgG","GA201 IgG+Cetuximab IgG","NMGC IgG"], "range": ["#7b2f98","#1a6e3a","#f28c28","#111111"]}},
  "shape": {"field": "s", "type": "nominal", "legend": null, "scale": {"domain": ["GA201 IgG","Cetuximab IgG","GA201 IgG+Cetuximab IgG","NMGC IgG"], "range": ["circle","triangle-down","diamond","circle"]}}}},
 {"data": {"name": "pts"}, "transform": [{"filter": "false"}], "mark": {"type": "point", "filled": true, "size": 34, "strokeWidth": 1.6, "opacity": 1}, "encoding": {"x": {"field": "x", "type": "quantitative", "scale": {"type": "log", "domain": [0.01, 1000], "nice": false}, "axis": null}, "y": {"field": "y", "type": "quantitative", "scale": {"domain": [-20, 100], "nice": false}, "title": "% Cytotoxicity", "axis": {"values": [-20,0,20,40,60,80,100]}},
  "stroke": {"field": "s", "type": "nominal", "title": null, "scale": {"domain": ["GA201 IgG","Cetuximab IgG","GA201 IgG+Cetuximab IgG","NMGC IgG"], "range": ["#7b2f98","#1a6e3a","#f28c28","#111111"]}, "legend": {"orient": "none", "legendX": 26, "legendY": 143}},
  "fill": {"field": "s", "type": "nominal", "title": null, "scale": {"domain": ["GA201 IgG","Cetuximab IgG","GA201 IgG+Cetuximab IgG","NMGC IgG"], "range": ["#7b2f98","#1a6e3a","#f28c28","#111111"]}},
  "shape": {"field": "s", "type": "nominal", "title": null, "scale": {"domain": ["GA201 IgG","Cetuximab IgG","GA201 IgG+Cetuximab IgG","NMGC IgG"], "range": ["M-2.6,0H-1M1,0H2.6M-1,0A1,1 0 1,1 1,0A1,1 0 1,1 -1,0Z","M-2.6,0H-0.55M0.55,0H2.6M-1,-0.8H1L0,0.95Z","M-2.6,0H-1.15M1.15,0H2.6M0,-1.15L1.15,0L0,1.15L-1.15,0Z","M-2.6,0H-1M1,0H2.6M-1,0A1,1 0 1,1 1,0A1,1 0 1,1 -1,0Z"]}}}}
]},
{"title": {"text": "c", "dx": -56}, "width": 166, "height": 110, "resolve": {"axis": {"x": "independent"}, "scale": {"stroke": "independent", "fill": "independent", "shape": "independent"}}, "layer": [
 {"data": {"name": "crv"}, "transform": [{"filter": "datum.p==='c'"}], "mark": {"type": "line", "interpolate": "monotone", "strokeWidth": 1.4}, "encoding": {"x": {"field": "x", "type": "quantitative", "scale": {"type": "log", "domain": [0.01, 1000], "nice": false}, "axis": {"orient": "top", "title": "HCC827"}}, "y": {"field": "y", "type": "quantitative", "scale": {"domain": [-20, 100], "nice": false}, "title": "% Cytotoxicity", "axis": {"values": [-20,0,20,40,60,80,100]}}, "color": {"field": "s", "type": "nominal", "scale": {"domain": ["NMGC IgG","QD6 IgG+GA201 IgG","GA201 IgG","QD6 IgG"], "range": ["#111111","#f6c27f","#7b2f98","#b3213b"]}, "legend": null}}},
 {"data": {"name": "pts"}, "transform": [{"filter": "datum.p==='c' && isValid(datum.lo)"}], "mark": {"type": "errorbar", "ticks": true, "thickness": 1.3}, "encoding": {"x": {"field": "x", "type": "quantitative", "scale": {"type": "log", "domain": [0.01, 1000], "nice": false}, "axis": null}, "y": {"field": "lo", "type": "quantitative", "scale": {"domain": [-20, 100], "nice": false}, "title": "% Cytotoxicity", "axis": {"values": [-20,0,20,40,60,80,100]}}, "y2": {"field": "hi"}, "color": {"field": "s", "type": "nominal", "legend": null}}},
 {"data": {"name": "pts"}, "transform": [{"filter": "datum.p==='c'"}], "mark": {"type": "point", "filled": true, "size": 34, "strokeWidth": 1.6, "opacity": 1}, "encoding": {"x": {"field": "x", "type": "quantitative", "scale": {"type": "log", "domain": [0.01, 1000], "nice": false}, "axis": {"values": [0.01,0.1,1,10,100,1000], "title": "[Ab] nM", "labelExpr": "datum.value<0.05?'10⁻²':datum.value<0.5?'10⁻¹':datum.value<5?'10⁰':datum.value<50?'10¹':datum.value<500?'10²':'10³'"}}, "y": {"field": "y", "type": "quantitative", "scale": {"domain": [-20, 100], "nice": false}, "title": "% Cytotoxicity", "axis": {"values": [-20,0,20,40,60,80,100]}},
  "stroke": {"field": "s", "type": "nominal", "legend": null, "scale": {"domain": ["QD6 IgG","GA201 IgG","QD6 IgG+GA201 IgG","NMGC IgG"], "range": ["#b3213b","#7b2f98","#f6c27f","#111111"]}},
  "fill": {"field": "s", "type": "nominal", "legend": null, "scale": {"domain": ["QD6 IgG","GA201 IgG","QD6 IgG+GA201 IgG","NMGC IgG"], "range": ["#b3213b","#7b2f98","#f6c27f","#111111"]}},
  "shape": {"field": "s", "type": "nominal", "legend": null, "scale": {"domain": ["QD6 IgG","GA201 IgG","QD6 IgG+GA201 IgG","NMGC IgG"], "range": ["square","circle","diamond","circle"]}}}},
 {"data": {"name": "pts"}, "transform": [{"filter": "false"}], "mark": {"type": "point", "filled": true, "size": 34, "strokeWidth": 1.6, "opacity": 1}, "encoding": {"x": {"field": "x", "type": "quantitative", "scale": {"type": "log", "domain": [0.01, 1000], "nice": false}, "axis": null}, "y": {"field": "y", "type": "quantitative", "scale": {"domain": [-20, 100], "nice": false}, "title": "% Cytotoxicity", "axis": {"values": [-20,0,20,40,60,80,100]}},
  "stroke": {"field": "s", "type": "nominal", "title": null, "scale": {"domain": ["QD6 IgG","GA201 IgG","QD6 IgG+GA201 IgG","NMGC IgG"], "range": ["#b3213b","#7b2f98","#f6c27f","#111111"]}, "legend": {"orient": "none", "legendX": 29, "legendY": 143}},
  "fill": {"field": "s", "type": "nominal", "title": null, "scale": {"domain": ["QD6 IgG","GA201 IgG","QD6 IgG+GA201 IgG","NMGC IgG"], "range": ["#b3213b","#7b2f98","#f6c27f","#111111"]}},
  "shape": {"field": "s", "type": "nominal", "title": null, "scale": {"domain": ["QD6 IgG","GA201 IgG","QD6 IgG+GA201 IgG","NMGC IgG"], "range": ["M-2.6,0H-0.9M0.9,0H2.6M-0.9,-0.9H0.9V0.9H-0.9Z","M-2.6,0H-1M1,0H2.6M-1,0A1,1 0 1,1 1,0A1,1 0 1,1 -1,0Z","M-2.6,0H-1.15M1.15,0H2.6M0,-1.15L1.15,0L0,1.15L-1.15,0Z","M-2.6,0H-1M1,0H2.6M-1,0A1,1 0 1,1 1,0A1,1 0 1,1 -1,0Z"]}}}}
]},
{"title": {"text": "d", "dx": -54}, "width": 166, "height": 110, "resolve": {"axis": {"x": "independent"}, "scale": {"stroke": "independent", "fill": "independent", "shape": "independent"}}, "layer": [
 {"data": {"name": "crv"}, "transform": [{"filter": "datum.p==='d'"}], "mark": {"type": "line", "interpolate": "monotone", "strokeWidth": 1.4}, "encoding": {"x": {"field": "x", "type": "quantitative", "scale": {"type": "log", "domain": [0.01, 1000], "nice": false}, "axis": {"orient": "top", "title": "HCC827"}}, "y": {"field": "y", "type": "quantitative", "scale": {"domain": [-20, 100], "nice": false}, "title": "% Cytotoxicity", "axis": {"values": [-20,0,20,40,60,80,100]}}, "color": {"field": "s", "type": "nominal", "scale": {"domain": ["NMGC IgG","QD6/NMGCC DuetMab+etuximab/NMGC DuetMab","Cetuximab/NMGC DuetMab","QD6/NMGC DuetMab"], "range": ["#111111","#cc6e33","#6fc04a","#e8333f"]}, "legend": null}}},
 {"data": {"name": "pts"}, "transform": [{"filter": "datum.p==='d' && isValid(datum.lo)"}], "mark": {"type": "errorbar", "ticks": true, "thickness": 1.3}, "encoding": {"x": {"field": "x", "type": "quantitative", "scale": {"type": "log", "domain": [0.01, 1000], "nice": false}, "axis": null}, "y": {"field": "lo", "type": "quantitative", "scale": {"domain": [-20, 100], "nice": false}, "title": "% Cytotoxicity", "axis": {"values": [-20,0,20,40,60,80,100]}}, "y2": {"field": "hi"}, "color": {"field": "s", "type": "nominal", "legend": null}}},
 {"data": {"name": "pts"}, "transform": [{"filter": "datum.p==='d'"}], "mark": {"type": "point", "filled": true, "size": 34, "strokeWidth": 1.6, "opacity": 1}, "encoding": {"x": {"field": "x", "type": "quantitative", "scale": {"type": "log", "domain": [0.01, 1000], "nice": false}, "axis": {"values": [0.01,0.1,1,10,100,1000], "title": "[Ab] nM", "labelExpr": "datum.value<0.05?'10⁻²':datum.value<0.5?'10⁻¹':datum.value<5?'10⁰':datum.value<50?'10¹':datum.value<500?'10²':'10³'"}}, "y": {"field": "y", "type": "quantitative", "scale": {"domain": [-20, 100], "nice": false}, "title": "% Cytotoxicity", "axis": {"values": [-20,0,20,40,60,80,100]}},
  "stroke": {"field": "s", "type": "nominal", "legend": null, "scale": {"domain": ["QD6/NMGC DuetMab","Cetuximab/NMGC DuetMab","QD6/NMGCC DuetMab+etuximab/NMGC DuetMab","NMGC IgG"], "range": ["#e8333f","#6fc04a","#cc6e33","#111111"]}},
  "fill": {"field": "s", "type": "nominal", "legend": null, "scale": {"domain": ["QD6/NMGC DuetMab","Cetuximab/NMGC DuetMab","QD6/NMGCC DuetMab+etuximab/NMGC DuetMab","NMGC IgG"], "range": ["#ffffff","#ffffff","#ffffff","#111111"]}},
  "shape": {"field": "s", "type": "nominal", "legend": null, "scale": {"domain": ["QD6/NMGC DuetMab","Cetuximab/NMGC DuetMab","QD6/NMGCC DuetMab+etuximab/NMGC DuetMab","NMGC IgG"], "range": ["square","triangle-down","diamond","circle"]}}}},
 {"data": {"name": "pts"}, "transform": [{"filter": "false"}], "mark": {"type": "point", "filled": true, "size": 34, "strokeWidth": 1.6, "opacity": 1}, "encoding": {"x": {"field": "x", "type": "quantitative", "scale": {"type": "log", "domain": [0.01, 1000], "nice": false}, "axis": null}, "y": {"field": "y", "type": "quantitative", "scale": {"domain": [-20, 100], "nice": false}, "title": "% Cytotoxicity", "axis": {"values": [-20,0,20,40,60,80,100]}},
  "stroke": {"field": "s", "type": "nominal", "title": null, "scale": {"domain": ["QD6/NMGC DuetMab","Cetuximab/NMGC DuetMab","QD6/NMGCC DuetMab+etuximab/NMGC DuetMab","NMGC IgG"], "range": ["#e8333f","#6fc04a","#cc6e33","#111111"]}, "legend": {"orient": "none", "legendX": -23, "legendY": 143}},
  "fill": {"field": "s", "type": "nominal", "title": null, "scale": {"domain": ["QD6/NMGC DuetMab","Cetuximab/NMGC DuetMab","QD6/NMGCC DuetMab+etuximab/NMGC DuetMab","NMGC IgG"], "range": ["#ffffff","#ffffff","#ffffff","#111111"]}},
  "shape": {"field": "s", "type": "nominal", "title": null, "scale": {"domain": ["QD6/NMGC DuetMab","Cetuximab/NMGC DuetMab","QD6/NMGCC DuetMab+etuximab/NMGC DuetMab","NMGC IgG"], "range": ["M-2.6,0H-0.9M0.9,0H2.6M-0.9,-0.9H0.9V0.9H-0.9Z","M-2.6,0H-0.55M0.55,0H2.6M-1,-0.8H1L0,0.95Z","M-2.6,0H-1.15M1.15,0H2.6M0,-1.15L1.15,0L0,1.15L-1.15,0Z","M-2.6,0H-1M1,0H2.6M-1,0A1,1 0 1,1 1,0A1,1 0 1,1 -1,0Z"]}}}}
]},
{"title": {"text": "e", "dx": -53}, "width": 166, "height": 110, "resolve": {"axis": {"x": "independent"}, "scale": {"stroke": "independent", "fill": "independent", "shape": "independent"}}, "layer": [
 {"data": {"name": "crv"}, "transform": [{"filter": "datum.p==='e'"}], "mark": {"type": "line", "interpolate": "monotone", "strokeWidth": 1.4}, "encoding": {"x": {"field": "x", "type": "quantitative", "scale": {"type": "log", "domain": [0.01, 1000], "nice": false}, "axis": {"orient": "top", "title": "HCC827"}}, "y": {"field": "y", "type": "quantitative", "scale": {"domain": [-20, 100], "nice": false}, "title": "% Cytotoxicity", "axis": {"values": [-20,0,20,40,60,80,100]}}, "color": {"field": "s", "type": "nominal", "scale": {"domain": ["NMGC IgG","GA201/NMGC DuetMab+Cetuximab/NMGC DuetMab","Cetuximab/NMGC DuetMab","GA201/NMGC DuetMab"], "range": ["#111111","#f7901e","#6fc04a","#b062c4"]}, "legend": null}}},
 {"data": {"name": "pts"}, "transform": [{"filter": "datum.p==='e' && isValid(datum.lo)"}], "mark": {"type": "errorbar", "ticks": true, "thickness": 1.3}, "encoding": {"x": {"field": "x", "type": "quantitative", "scale": {"type": "log", "domain": [0.01, 1000], "nice": false}, "axis": null}, "y": {"field": "lo", "type": "quantitative", "scale": {"domain": [-20, 100], "nice": false}, "title": "% Cytotoxicity", "axis": {"values": [-20,0,20,40,60,80,100]}}, "y2": {"field": "hi"}, "color": {"field": "s", "type": "nominal", "legend": null}}},
 {"data": {"name": "pts"}, "transform": [{"filter": "datum.p==='e'"}], "mark": {"type": "point", "filled": true, "size": 34, "strokeWidth": 1.6, "opacity": 1}, "encoding": {"x": {"field": "x", "type": "quantitative", "scale": {"type": "log", "domain": [0.01, 1000], "nice": false}, "axis": {"values": [0.01,0.1,1,10,100,1000], "title": "[Ab] nM", "labelExpr": "datum.value<0.05?'10⁻²':datum.value<0.5?'10⁻¹':datum.value<5?'10⁰':datum.value<50?'10¹':datum.value<500?'10²':'10³'"}}, "y": {"field": "y", "type": "quantitative", "scale": {"domain": [-20, 100], "nice": false}, "title": "% Cytotoxicity", "axis": {"values": [-20,0,20,40,60,80,100]}},
  "stroke": {"field": "s", "type": "nominal", "legend": null, "scale": {"domain": ["GA201/NMGC DuetMab","Cetuximab/NMGC DuetMab","GA201/NMGC DuetMab+Cetuximab/NMGC DuetMab","NMGC IgG"], "range": ["#b062c4","#6fc04a","#f7901e","#111111"]}},
  "fill": {"field": "s", "type": "nominal", "legend": null, "scale": {"domain": ["GA201/NMGC DuetMab","Cetuximab/NMGC DuetMab","GA201/NMGC DuetMab+Cetuximab/NMGC DuetMab","NMGC IgG"], "range": ["#ffffff","#ffffff","#ffffff","#111111"]}},
  "shape": {"field": "s", "type": "nominal", "legend": null, "scale": {"domain": ["GA201/NMGC DuetMab","Cetuximab/NMGC DuetMab","GA201/NMGC DuetMab+Cetuximab/NMGC DuetMab","NMGC IgG"], "range": ["circle","triangle-down","diamond","circle"]}}}},
 {"data": {"name": "pts"}, "transform": [{"filter": "false"}], "mark": {"type": "point", "filled": true, "size": 34, "strokeWidth": 1.6, "opacity": 1}, "encoding": {"x": {"field": "x", "type": "quantitative", "scale": {"type": "log", "domain": [0.01, 1000], "nice": false}, "axis": null}, "y": {"field": "y", "type": "quantitative", "scale": {"domain": [-20, 100], "nice": false}, "title": "% Cytotoxicity", "axis": {"values": [-20,0,20,40,60,80,100]}},
  "stroke": {"field": "s", "type": "nominal", "title": null, "scale": {"domain": ["GA201/NMGC DuetMab","Cetuximab/NMGC DuetMab","GA201/NMGC DuetMab+Cetuximab/NMGC DuetMab","NMGC IgG"], "range": ["#b062c4","#6fc04a","#f7901e","#111111"]}, "legend": {"orient": "none", "legendX": -26, "legendY": 143}},
  "fill": {"field": "s", "type": "nominal", "title": null, "scale": {"domain": ["GA201/NMGC DuetMab","Cetuximab/NMGC DuetMab","GA201/NMGC DuetMab+Cetuximab/NMGC DuetMab","NMGC IgG"], "range": ["#ffffff","#ffffff","#ffffff","#111111"]}},
  "shape": {"field": "s", "type": "nominal", "title": null, "scale": {"domain": ["GA201/NMGC DuetMab","Cetuximab/NMGC DuetMab","GA201/NMGC DuetMab+Cetuximab/NMGC DuetMab","NMGC IgG"], "range": ["M-2.6,0H-1M1,0H2.6M-1,0A1,1 0 1,1 1,0A1,1 0 1,1 -1,0Z","M-2.6,0H-0.55M0.55,0H2.6M-1,-0.8H1L0,0.95Z","M-2.6,0H-1.15M1.15,0H2.6M0,-1.15L1.15,0L0,1.15L-1.15,0Z","M-2.6,0H-1M1,0H2.6M-1,0A1,1 0 1,1 1,0A1,1 0 1,1 -1,0Z"]}}}}
]},
{"title": {"text": "f", "dx": -54}, "width": 166, "height": 110, "resolve": {"axis": {"x": "independent"}, "scale": {"stroke": "independent", "fill": "independent", "shape": "independent"}}, "layer": [
 {"data": {"name": "crv"}, "transform": [{"filter": "datum.p==='f'"}], "mark": {"type": "line", "interpolate": "monotone", "strokeWidth": 1.4}, "encoding": {"x": {"field": "x", "type": "quantitative", "scale": {"type": "log", "domain": [0.01, 1000], "nice": false}, "axis": {"orient": "top", "title": "HCC827"}}, "y": {"field": "y", "type": "quantitative", "scale": {"domain": [-20, 100], "nice": false}, "title": "% Cytotoxicity", "axis": {"values": [-20,0,20,40,60,80,100]}}, "color": {"field": "s", "type": "nominal", "scale": {"domain": ["NMGC IgG","QD6/NMGC DuetMab+GA201/NMGC DuetMab","GA201/NMGC DuetMab","QD6/NMGC DuetMab"], "range": ["#111111","#f8c27c","#b062c4","#e8333f"]}, "legend": null}}},
 {"data": {"name": "pts"}, "transform": [{"filter": "datum.p==='f' && isValid(datum.lo)"}], "mark": {"type": "errorbar", "ticks": true, "thickness": 1.3}, "encoding": {"x": {"field": "x", "type": "quantitative", "scale": {"type": "log", "domain": [0.01, 1000], "nice": false}, "axis": null}, "y": {"field": "lo", "type": "quantitative", "scale": {"domain": [-20, 100], "nice": false}, "title": "% Cytotoxicity", "axis": {"values": [-20,0,20,40,60,80,100]}}, "y2": {"field": "hi"}, "color": {"field": "s", "type": "nominal", "legend": null}}},
 {"data": {"name": "pts"}, "transform": [{"filter": "datum.p==='f'"}], "mark": {"type": "point", "filled": true, "size": 34, "strokeWidth": 1.6, "opacity": 1}, "encoding": {"x": {"field": "x", "type": "quantitative", "scale": {"type": "log", "domain": [0.01, 1000], "nice": false}, "axis": {"values": [0.01,0.1,1,10,100,1000], "title": "[Ab] nM", "labelExpr": "datum.value<0.05?'10⁻²':datum.value<0.5?'10⁻¹':datum.value<5?'10⁰':datum.value<50?'10¹':datum.value<500?'10²':'10³'"}}, "y": {"field": "y", "type": "quantitative", "scale": {"domain": [-20, 100], "nice": false}, "title": "% Cytotoxicity", "axis": {"values": [-20,0,20,40,60,80,100]}},
  "stroke": {"field": "s", "type": "nominal", "legend": null, "scale": {"domain": ["QD6/NMGC DuetMab","GA201/NMGC DuetMab","QD6/NMGC DuetMab+GA201/NMGC DuetMab","NMGC IgG"], "range": ["#e8333f","#b062c4","#f8c27c","#111111"]}},
  "fill": {"field": "s", "type": "nominal", "legend": null, "scale": {"domain": ["QD6/NMGC DuetMab","GA201/NMGC DuetMab","QD6/NMGC DuetMab+GA201/NMGC DuetMab","NMGC IgG"], "range": ["#ffffff","#ffffff","#f8c27c","#111111"]}},
  "shape": {"field": "s", "type": "nominal", "legend": null, "scale": {"domain": ["QD6/NMGC DuetMab","GA201/NMGC DuetMab","QD6/NMGC DuetMab+GA201/NMGC DuetMab","NMGC IgG"], "range": ["square","circle","diamond","circle"]}}}},
 {"data": {"name": "pts"}, "transform": [{"filter": "false"}], "mark": {"type": "point", "filled": true, "size": 34, "strokeWidth": 1.6, "opacity": 1}, "encoding": {"x": {"field": "x", "type": "quantitative", "scale": {"type": "log", "domain": [0.01, 1000], "nice": false}, "axis": null}, "y": {"field": "y", "type": "quantitative", "scale": {"domain": [-20, 100], "nice": false}, "title": "% Cytotoxicity", "axis": {"values": [-20,0,20,40,60,80,100]}},
  "stroke": {"field": "s", "type": "nominal", "title": null, "scale": {"domain": ["QD6/NMGC DuetMab","GA201/NMGC DuetMab","QD6/NMGC DuetMab+GA201/NMGC DuetMab","NMGC IgG"], "range": ["#e8333f","#b062c4","#f8c27c","#111111"]}, "legend": {"orient": "none", "legendX": -20, "legendY": 143}},
  "fill": {"field": "s", "type": "nominal", "title": null, "scale": {"domain": ["QD6/NMGC DuetMab","GA201/NMGC DuetMab","QD6/NMGC DuetMab+GA201/NMGC DuetMab","NMGC IgG"], "range": ["#ffffff","#ffffff","#f8c27c","#111111"]}},
  "shape": {"field": "s", "type": "nominal", "title": null, "scale": {"domain": ["QD6/NMGC DuetMab","GA201/NMGC DuetMab","QD6/NMGC DuetMab+GA201/NMGC DuetMab","NMGC IgG"], "range": ["M-2.6,0H-0.9M0.9,0H2.6M-0.9,-0.9H0.9V0.9H-0.9Z","M-2.6,0H-1M1,0H2.6M-1,0A1,1 0 1,1 1,0A1,1 0 1,1 -1,0Z","M-2.6,0H-1.15M1.15,0H2.6M0,-1.15L1.15,0L0,1.15L-1.15,0Z","M-2.6,0H-1M1,0H2.6M-1,0A1,1 0 1,1 1,0A1,1 0 1,1 -1,0Z"]}}}}
]},
{"title": {"text": "g", "dx": -54}, "width": 166, "height": 110, "resolve": {"axis": {"x": "independent"}, "scale": {"stroke": "independent", "fill": "independent", "shape": "independent"}}, "layer": [
 {"data": {"name": "crv"}, "transform": [{"filter": "datum.p==='g'"}], "mark": {"type": "line", "interpolate": "monotone", "strokeWidth": 1.4}, "encoding": {"x": {"field": "x", "type": "quantitative", "scale": {"type": "log", "domain": [0.01, 1000], "nice": false}, "axis": {"orient": "top", "title": "SK-BR-3"}}, "y": {"field": "y", "type": "quantitative", "scale": {"domain": [-20, 100], "nice": false}, "title": "% Cytotoxicity", "axis": {"values": [-20,0,20,40,60,80,100]}}, "color": {"field": "s", "type": "nominal", "scale": {"domain": ["NMGC IgG","Trastuzumab IgG+Pertuzumab IgG","Pertuzumab IgG","Trastuzumab IgG"], "range": ["#111111","#e36bbd","#7f9a35","#d5722b"]}, "legend": null}}},
 {"data": {"name": "pts"}, "transform": [{"filter": "datum.p==='g' && isValid(datum.lo)"}], "mark": {"type": "errorbar", "ticks": true, "thickness": 1.3}, "encoding": {"x": {"field": "x", "type": "quantitative", "scale": {"type": "log", "domain": [0.01, 1000], "nice": false}, "axis": null}, "y": {"field": "lo", "type": "quantitative", "scale": {"domain": [-20, 100], "nice": false}, "title": "% Cytotoxicity", "axis": {"values": [-20,0,20,40,60,80,100]}}, "y2": {"field": "hi"}, "color": {"field": "s", "type": "nominal", "legend": null}}},
 {"data": {"name": "pts"}, "transform": [{"filter": "datum.p==='g'"}], "mark": {"type": "point", "filled": true, "size": 34, "strokeWidth": 1.6, "opacity": 1}, "encoding": {"x": {"field": "x", "type": "quantitative", "scale": {"type": "log", "domain": [0.01, 1000], "nice": false}, "axis": {"values": [0.01,0.1,1,10,100,1000], "title": "[Ab] nM", "labelExpr": "datum.value<0.05?'10⁻²':datum.value<0.5?'10⁻¹':datum.value<5?'10⁰':datum.value<50?'10¹':datum.value<500?'10²':'10³'"}}, "y": {"field": "y", "type": "quantitative", "scale": {"domain": [-20, 100], "nice": false}, "title": "% Cytotoxicity", "axis": {"values": [-20,0,20,40,60,80,100]}},
  "stroke": {"field": "s", "type": "nominal", "legend": null, "scale": {"domain": ["Trastuzumab IgG","Pertuzumab IgG","Trastuzumab IgG+Pertuzumab IgG","NMGC IgG"], "range": ["#d5722b","#7f9a35","#e36bbd","#111111"]}},
  "fill": {"field": "s", "type": "nominal", "legend": null, "scale": {"domain": ["Trastuzumab IgG","Pertuzumab IgG","Trastuzumab IgG+Pertuzumab IgG","NMGC IgG"], "range": ["#d5722b","#7f9a35","#ffffff","#111111"]}},
  "shape": {"field": "s", "type": "nominal", "legend": null, "scale": {"domain": ["Trastuzumab IgG","Pertuzumab IgG","Trastuzumab IgG+Pertuzumab IgG","NMGC IgG"], "range": ["diamond","circle","diamond","circle"]}}}},
 {"data": {"name": "pts"}, "transform": [{"filter": "false"}], "mark": {"type": "point", "filled": true, "size": 34, "strokeWidth": 1.6, "opacity": 1}, "encoding": {"x": {"field": "x", "type": "quantitative", "scale": {"type": "log", "domain": [0.01, 1000], "nice": false}, "axis": null}, "y": {"field": "y", "type": "quantitative", "scale": {"domain": [-20, 100], "nice": false}, "title": "% Cytotoxicity", "axis": {"values": [-20,0,20,40,60,80,100]}},
  "stroke": {"field": "s", "type": "nominal", "title": null, "scale": {"domain": ["Trastuzumab IgG","Pertuzumab IgG","Trastuzumab IgG+Pertuzumab IgG","NMGC IgG"], "range": ["#d5722b","#7f9a35","#e36bbd","#111111"]}, "legend": {"orient": "none", "legendX": 11, "legendY": 143}},
  "fill": {"field": "s", "type": "nominal", "title": null, "scale": {"domain": ["Trastuzumab IgG","Pertuzumab IgG","Trastuzumab IgG+Pertuzumab IgG","NMGC IgG"], "range": ["#d5722b","#7f9a35","#ffffff","#111111"]}},
  "shape": {"field": "s", "type": "nominal", "title": null, "scale": {"domain": ["Trastuzumab IgG","Pertuzumab IgG","Trastuzumab IgG+Pertuzumab IgG","NMGC IgG"], "range": ["M-2.6,0H-1.15M1.15,0H2.6M0,-1.15L1.15,0L0,1.15L-1.15,0Z","M-2.6,0H-1M1,0H2.6M-1,0A1,1 0 1,1 1,0A1,1 0 1,1 -1,0Z","M-2.6,0H-1.15M1.15,0H2.6M0,-1.15L1.15,0L0,1.15L-1.15,0Z","M-2.6,0H-1M1,0H2.6M-1,0A1,1 0 1,1 1,0A1,1 0 1,1 -1,0Z"]}}}}
]},
{"title": {"text": "h", "dx": -53}, "width": 166, "height": 110, "resolve": {"axis": {"x": "independent"}, "scale": {"stroke": "independent", "fill": "independent", "shape": "independent"}}, "layer": [
 {"data": {"name": "crv"}, "transform": [{"filter": "datum.p==='h'"}], "mark": {"type": "line", "interpolate": "monotone", "strokeWidth": 1.4}, "encoding": {"x": {"field": "x", "type": "quantitative", "scale": {"type": "log", "domain": [0.01, 1000], "nice": false}, "axis": {"orient": "top", "title": "SK-BR-3"}}, "y": {"field": "y", "type": "quantitative", "scale": {"domain": [-20, 100], "nice": false}, "title": "% Cytotoxicity", "axis": {"values": [-20,0,20,40,60,80,100]}}, "color": {"field": "s", "type": "nominal", "scale": {"domain": ["NMGC IgG","Trastuzumab IgG+B1D2 IgG","B1D2 IgG","Trastuzumab IgG"], "range": ["#111111","#25a8ba","#b2245f","#d5722b"]}, "legend": null}}},
 {"data": {"name": "pts"}, "transform": [{"filter": "datum.p==='h' && isValid(datum.lo)"}], "mark": {"type": "errorbar", "ticks": true, "thickness": 1.3}, "encoding": {"x": {"field": "x", "type": "quantitative", "scale": {"type": "log", "domain": [0.01, 1000], "nice": false}, "axis": null}, "y": {"field": "lo", "type": "quantitative", "scale": {"domain": [-20, 100], "nice": false}, "title": "% Cytotoxicity", "axis": {"values": [-20,0,20,40,60,80,100]}}, "y2": {"field": "hi"}, "color": {"field": "s", "type": "nominal", "legend": null}}},
 {"data": {"name": "pts"}, "transform": [{"filter": "datum.p==='h'"}], "mark": {"type": "point", "filled": true, "size": 34, "strokeWidth": 1.6, "opacity": 1}, "encoding": {"x": {"field": "x", "type": "quantitative", "scale": {"type": "log", "domain": [0.01, 1000], "nice": false}, "axis": {"values": [0.01,0.1,1,10,100,1000], "title": "[Ab] nM", "labelExpr": "datum.value<0.05?'10⁻²':datum.value<0.5?'10⁻¹':datum.value<5?'10⁰':datum.value<50?'10¹':datum.value<500?'10²':'10³'"}}, "y": {"field": "y", "type": "quantitative", "scale": {"domain": [-20, 100], "nice": false}, "title": "% Cytotoxicity", "axis": {"values": [-20,0,20,40,60,80,100]}},
  "stroke": {"field": "s", "type": "nominal", "legend": null, "scale": {"domain": ["Trastuzumab IgG","B1D2 IgG","Trastuzumab IgG+B1D2 IgG","NMGC IgG"], "range": ["#d5722b","#b2245f","#25a8ba","#111111"]}},
  "fill": {"field": "s", "type": "nominal", "legend": null, "scale": {"domain": ["Trastuzumab IgG","B1D2 IgG","Trastuzumab IgG+B1D2 IgG","NMGC IgG"], "range": ["#d5722b","#b2245f","#ffffff","#111111"]}},
  "shape": {"field": "s", "type": "nominal", "legend": null, "scale": {"domain": ["Trastuzumab IgG","B1D2 IgG","Trastuzumab IgG+B1D2 IgG","NMGC IgG"], "range": ["diamond","triangle-up","diamond","circle"]}}}},
 {"data": {"name": "pts"}, "transform": [{"filter": "false"}], "mark": {"type": "point", "filled": true, "size": 34, "strokeWidth": 1.6, "opacity": 1}, "encoding": {"x": {"field": "x", "type": "quantitative", "scale": {"type": "log", "domain": [0.01, 1000], "nice": false}, "axis": null}, "y": {"field": "y", "type": "quantitative", "scale": {"domain": [-20, 100], "nice": false}, "title": "% Cytotoxicity", "axis": {"values": [-20,0,20,40,60,80,100]}},
  "stroke": {"field": "s", "type": "nominal", "title": null, "scale": {"domain": ["Trastuzumab IgG","B1D2 IgG","Trastuzumab IgG+B1D2 IgG","NMGC IgG"], "range": ["#d5722b","#b2245f","#25a8ba","#111111"]}, "legend": {"orient": "none", "legendX": 29, "legendY": 143}},
  "fill": {"field": "s", "type": "nominal", "title": null, "scale": {"domain": ["Trastuzumab IgG","B1D2 IgG","Trastuzumab IgG+B1D2 IgG","NMGC IgG"], "range": ["#d5722b","#b2245f","#ffffff","#111111"]}},
  "shape": {"field": "s", "type": "nominal", "title": null, "scale": {"domain": ["Trastuzumab IgG","B1D2 IgG","Trastuzumab IgG+B1D2 IgG","NMGC IgG"], "range": ["M-2.6,0H-1.15M1.15,0H2.6M0,-1.15L1.15,0L0,1.15L-1.15,0Z","M-2.6,0H-0.55M0.55,0H2.6M-1,0.8H1L0,-0.95Z","M-2.6,0H-1.15M1.15,0H2.6M0,-1.15L1.15,0L0,1.15L-1.15,0Z","M-2.6,0H-1M1,0H2.6M-1,0A1,1 0 1,1 1,0A1,1 0 1,1 -1,0Z"]}}}}
]},
{"title": {"text": "i", "dx": -51}, "width": 166, "height": 110, "resolve": {"axis": {"x": "independent"}, "scale": {"stroke": "independent", "fill": "independent", "shape": "independent"}}, "layer": [
 {"data": {"name": "crv"}, "transform": [{"filter": "datum.p==='i'"}], "mark": {"type": "line", "interpolate": "monotone", "strokeWidth": 1.4}, "encoding": {"x": {"field": "x", "type": "quantitative", "scale": {"type": "log", "domain": [0.01, 1000], "nice": false}, "axis": {"orient": "top", "title": "SK-BR-3"}}, "y": {"field": "y", "type": "quantitative", "scale": {"domain": [-20, 100], "nice": false}, "title": "% Cytotoxicity", "axis": {"values": [-20,0,20,40,60,80,100]}}, "color": {"field": "s", "type": "nominal", "scale": {"domain": ["NMGC IgG","Pertuzumab IgG+B1D2 IgG","B1D2 IgG","Pertuzumab IgG"], "range": ["#111111","#28803f","#c0306a","#8a9a3a"]}, "legend": null}}},
 {"data": {"name": "pts"}, "transform": [{"filter": "datum.p==='i' && isValid(datum.lo)"}], "mark": {"type": "errorbar", "ticks": true, "thickness": 1.3}, "encoding": {"x": {"field": "x", "type": "quantitative", "scale": {"type": "log", "domain": [0.01, 1000], "nice": false}, "axis": null}, "y": {"field": "lo", "type": "quantitative", "scale": {"domain": [-20, 100], "nice": false}, "title": "% Cytotoxicity", "axis": {"values": [-20,0,20,40,60,80,100]}}, "y2": {"field": "hi"}, "color": {"field": "s", "type": "nominal", "legend": null}}},
 {"data": {"name": "pts"}, "transform": [{"filter": "datum.p==='i'"}], "mark": {"type": "point", "filled": true, "size": 34, "strokeWidth": 1.6, "opacity": 1}, "encoding": {"x": {"field": "x", "type": "quantitative", "scale": {"type": "log", "domain": [0.01, 1000], "nice": false}, "axis": {"values": [0.01,0.1,1,10,100,1000], "title": "[Ab] nM", "labelExpr": "datum.value<0.05?'10⁻²':datum.value<0.5?'10⁻¹':datum.value<5?'10⁰':datum.value<50?'10¹':datum.value<500?'10²':'10³'"}}, "y": {"field": "y", "type": "quantitative", "scale": {"domain": [-20, 100], "nice": false}, "title": "% Cytotoxicity", "axis": {"values": [-20,0,20,40,60,80,100]}},
  "stroke": {"field": "s", "type": "nominal", "legend": null, "scale": {"domain": ["Pertuzumab IgG","B1D2 IgG","Pertuzumab IgG+B1D2 IgG","NMGC IgG"], "range": ["#8a9a3a","#c0306a","#28803f","#111111"]}},
  "fill": {"field": "s", "type": "nominal", "legend": null, "scale": {"domain": ["Pertuzumab IgG","B1D2 IgG","Pertuzumab IgG+B1D2 IgG","NMGC IgG"], "range": ["#8a9a3a","#c0306a","#ffffff","#111111"]}},
  "shape": {"field": "s", "type": "nominal", "legend": null, "scale": {"domain": ["Pertuzumab IgG","B1D2 IgG","Pertuzumab IgG+B1D2 IgG","NMGC IgG"], "range": ["circle","triangle-up","diamond","circle"]}}}},
 {"data": {"name": "pts"}, "transform": [{"filter": "false"}], "mark": {"type": "point", "filled": true, "size": 34, "strokeWidth": 1.6, "opacity": 1}, "encoding": {"x": {"field": "x", "type": "quantitative", "scale": {"type": "log", "domain": [0.01, 1000], "nice": false}, "axis": null}, "y": {"field": "y", "type": "quantitative", "scale": {"domain": [-20, 100], "nice": false}, "title": "% Cytotoxicity", "axis": {"values": [-20,0,20,40,60,80,100]}},
  "stroke": {"field": "s", "type": "nominal", "title": null, "scale": {"domain": ["Pertuzumab IgG","B1D2 IgG","Pertuzumab IgG+B1D2 IgG","NMGC IgG"], "range": ["#8a9a3a","#c0306a","#28803f","#111111"]}, "legend": {"orient": "none", "legendX": 14, "legendY": 143}},
  "fill": {"field": "s", "type": "nominal", "title": null, "scale": {"domain": ["Pertuzumab IgG","B1D2 IgG","Pertuzumab IgG+B1D2 IgG","NMGC IgG"], "range": ["#8a9a3a","#c0306a","#ffffff","#111111"]}},
  "shape": {"field": "s", "type": "nominal", "title": null, "scale": {"domain": ["Pertuzumab IgG","B1D2 IgG","Pertuzumab IgG+B1D2 IgG","NMGC IgG"], "range": ["M-2.6,0H-1M1,0H2.6M-1,0A1,1 0 1,1 1,0A1,1 0 1,1 -1,0Z","M-2.6,0H-0.55M0.55,0H2.6M-1,0.8H1L0,-0.95Z","M-2.6,0H-1.15M1.15,0H2.6M0,-1.15L1.15,0L0,1.15L-1.15,0Z","M-2.6,0H-1M1,0H2.6M-1,0A1,1 0 1,1 1,0A1,1 0 1,1 -1,0Z"]}}}}
]},
{"title": {"text": "j", "dx": -54}, "width": 166, "height": 110, "resolve": {"axis": {"x": "independent"}, "scale": {"stroke": "independent", "fill": "independent", "shape": "independent"}}, "layer": [
 {"data": {"name": "crv"}, "transform": [{"filter": "datum.p==='j'"}], "mark": {"type": "line", "interpolate": "monotone", "strokeWidth": 1.4}, "encoding": {"x": {"field": "x", "type": "quantitative", "scale": {"type": "log", "domain": [0.01, 1000], "nice": false}, "axis": {"orient": "top", "title": "SK-BR-3"}}, "y": {"field": "y", "type": "quantitative", "scale": {"domain": [-20, 100], "nice": false}, "title": "% Cytotoxicity", "axis": {"values": [-20,0,20,40,60,80,100]}}, "color": {"field": "s", "type": "nominal", "scale": {"domain": ["NMGC IgG","Trastuzumab/NMGC DuetMab+Pertuzumab/NMGC DuetMab","Pertuzumab/NMGC DuetMab","Trastuzumab/NMGC DuetMab"], "range": ["#111111","#de62ad","#c8d33a","#f58d3a"]}, "legend": null}}},
 {"data": {"name": "pts"}, "transform": [{"filter": "datum.p==='j' && isValid(datum.lo)"}], "mark": {"type": "errorbar", "ticks": true, "thickness": 1.3}, "encoding": {"x": {"field": "x", "type": "quantitative", "scale": {"type": "log", "domain": [0.01, 1000], "nice": false}, "axis": {"values": [0.02,0.03,0.04,0.05,0.06,0.07,0.08,0.09,0.2,0.3,0.4,0.5,0.6,0.7,0.8,0.9,2,3,4,5,6,7,8,9,20,30,40,50,60,70,80,90,200,300,400,500,600,700,800,900], "labels": false, "domain": false, "title": null, "tickSize": 3, "tickWidth": 1}}, "y": {"field": "lo", "type": "quantitative", "scale": {"domain": [-20, 100], "nice": false}, "title": "% Cytotoxicity", "axis": {"values": [-20,0,20,40,60,80,100]}}, "y2": {"field": "hi"}, "color": {"field": "s", "type": "nominal", "legend": null}}},
 {"data": {"name": "pts"}, "transform": [{"filter": "datum.p==='j'"}], "mark": {"type": "point", "filled": true, "size": 34, "strokeWidth": 1.6, "opacity": 1}, "encoding": {"x": {"field": "x", "type": "quantitative", "scale": {"type": "log", "domain": [0.01, 1000], "nice": false}, "axis": {"values": [0.01,0.1,1,10,100,1000], "title": "[Ab] nM", "labelExpr": "datum.value<0.05?'10⁻²':datum.value<0.5?'10⁻¹':datum.value<5?'10⁰':datum.value<50?'10¹':datum.value<500?'10²':'10³'"}}, "y": {"field": "y", "type": "quantitative", "scale": {"domain": [-20, 100], "nice": false}, "title": "% Cytotoxicity", "axis": {"values": [-20,0,20,40,60,80,100]}},
  "stroke": {"field": "s", "type": "nominal", "legend": null, "scale": {"domain": ["Trastuzumab/NMGC DuetMab","Pertuzumab/NMGC DuetMab","Trastuzumab/NMGC DuetMab+Pertuzumab/NMGC DuetMab","NMGC IgG"], "range": ["#f58d3a","#c8d33a","#de62ad","#111111"]}},
  "fill": {"field": "s", "type": "nominal", "legend": null, "scale": {"domain": ["Trastuzumab/NMGC DuetMab","Pertuzumab/NMGC DuetMab","Trastuzumab/NMGC DuetMab+Pertuzumab/NMGC DuetMab","NMGC IgG"], "range": ["#ffffff","#ffffff","#de62ad","#111111"]}},
  "shape": {"field": "s", "type": "nominal", "legend": null, "scale": {"domain": ["Trastuzumab/NMGC DuetMab","Pertuzumab/NMGC DuetMab","Trastuzumab/NMGC DuetMab+Pertuzumab/NMGC DuetMab","NMGC IgG"], "range": ["diamond","circle","diamond","circle"]}}}},
 {"data": {"name": "pts"}, "transform": [{"filter": "false"}], "mark": {"type": "point", "filled": true, "size": 34, "strokeWidth": 1.6, "opacity": 1}, "encoding": {"x": {"field": "x", "type": "quantitative", "scale": {"type": "log", "domain": [0.01, 1000], "nice": false}, "axis": null}, "y": {"field": "y", "type": "quantitative", "scale": {"domain": [-20, 100], "nice": false}, "title": "% Cytotoxicity", "axis": {"values": [-20,0,20,40,60,80,100]}},
  "stroke": {"field": "s", "type": "nominal", "title": null, "scale": {"domain": ["Trastuzumab/NMGC DuetMab","Pertuzumab/NMGC DuetMab","Trastuzumab/NMGC DuetMab+Pertuzumab/NMGC DuetMab","NMGC IgG"], "range": ["#f58d3a","#c8d33a","#de62ad","#111111"]}, "legend": {"orient": "none", "legendX": -45, "legendY": 143}},
  "fill": {"field": "s", "type": "nominal", "title": null, "scale": {"domain": ["Trastuzumab/NMGC DuetMab","Pertuzumab/NMGC DuetMab","Trastuzumab/NMGC DuetMab+Pertuzumab/NMGC DuetMab","NMGC IgG"], "range": ["#ffffff","#ffffff","#de62ad","#111111"]}},
  "shape": {"field": "s", "type": "nominal", "title": null, "scale": {"domain": ["Trastuzumab/NMGC DuetMab","Pertuzumab/NMGC DuetMab","Trastuzumab/NMGC DuetMab+Pertuzumab/NMGC DuetMab","NMGC IgG"], "range": ["M-2.6,0H-1.15M1.15,0H2.6M0,-1.15L1.15,0L0,1.15L-1.15,0Z","M-2.6,0H-1M1,0H2.6M-1,0A1,1 0 1,1 1,0A1,1 0 1,1 -1,0Z","M-2.6,0H-1.15M1.15,0H2.6M0,-1.15L1.15,0L0,1.15L-1.15,0Z","M-2.6,0H-1M1,0H2.6M-1,0A1,1 0 1,1 1,0A1,1 0 1,1 -1,0Z"]}}}}
]},
{"title": {"text": "k", "dx": -53}, "width": 166, "height": 110, "resolve": {"axis": {"x": "independent"}, "scale": {"stroke": "independent", "fill": "independent", "shape": "independent"}}, "layer": [
 {"data": {"name": "crv"}, "transform": [{"filter": "datum.p==='k'"}], "mark": {"type": "line", "interpolate": "monotone", "strokeWidth": 1.4}, "encoding": {"x": {"field": "x", "type": "quantitative", "scale": {"type": "log", "domain": [0.01, 1000], "nice": false}, "axis": {"orient": "top", "title": "SK-BR-3"}}, "y": {"field": "y", "type": "quantitative", "scale": {"domain": [-20, 100], "nice": false}, "title": "% Cytotoxicity", "axis": {"values": [-20,0,20,40,60,80,100]}}, "color": {"field": "s", "type": "nominal", "scale": {"domain": ["NMGC IgG","Trastuzumab/NMGC DuetMab+B1D2/NMGC DuetMab","B1D2/NMGC DuetMab","Trastuzumab/NMGC DuetMab"], "range": ["#111111","#27a5b2","#e8368c","#f2a93b"]}, "legend": null}}},
 {"data": {"name": "pts"}, "transform": [{"filter": "datum.p==='k' && isValid(datum.lo)"}], "mark": {"type": "errorbar", "ticks": true, "thickness": 1.3}, "encoding": {"x": {"field": "x", "type": "quantitative", "scale": {"type": "log", "domain": [0.01, 1000], "nice": false}, "axis": {"values": [0.02,0.03,0.04,0.05,0.06,0.07,0.08,0.09,0.2,0.3,0.4,0.5,0.6,0.7,0.8,0.9,2,3,4,5,6,7,8,9,20,30,40,50,60,70,80,90,200,300,400,500,600,700,800,900], "labels": false, "domain": false, "title": null, "tickSize": 3, "tickWidth": 1}}, "y": {"field": "lo", "type": "quantitative", "scale": {"domain": [-20, 100], "nice": false}, "title": "% Cytotoxicity", "axis": {"values": [-20,0,20,40,60,80,100]}}, "y2": {"field": "hi"}, "color": {"field": "s", "type": "nominal", "legend": null}}},
 {"data": {"name": "pts"}, "transform": [{"filter": "datum.p==='k'"}], "mark": {"type": "point", "filled": true, "size": 34, "strokeWidth": 1.6, "opacity": 1}, "encoding": {"x": {"field": "x", "type": "quantitative", "scale": {"type": "log", "domain": [0.01, 1000], "nice": false}, "axis": {"values": [0.01,0.1,1,10,100,1000], "title": "[Ab] nM", "labelExpr": "datum.value<0.05?'10⁻²':datum.value<0.5?'10⁻¹':datum.value<5?'10⁰':datum.value<50?'10¹':datum.value<500?'10²':'10³'"}}, "y": {"field": "y", "type": "quantitative", "scale": {"domain": [-20, 100], "nice": false}, "title": "% Cytotoxicity", "axis": {"values": [-20,0,20,40,60,80,100]}},
  "stroke": {"field": "s", "type": "nominal", "legend": null, "scale": {"domain": ["Trastuzumab/NMGC DuetMab","B1D2/NMGC DuetMab","Trastuzumab/NMGC DuetMab+B1D2/NMGC DuetMab","NMGC IgG"], "range": ["#f2a93b","#e8368c","#27a5b2","#111111"]}},
  "fill": {"field": "s", "type": "nominal", "legend": null, "scale": {"domain": ["Trastuzumab/NMGC DuetMab","B1D2/NMGC DuetMab","Trastuzumab/NMGC DuetMab+B1D2/NMGC DuetMab","NMGC IgG"], "range": ["#f2a93b","#ffffff","#ffffff","#111111"]}},
  "shape": {"field": "s", "type": "nominal", "legend": null, "scale": {"domain": ["Trastuzumab/NMGC DuetMab","B1D2/NMGC DuetMab","Trastuzumab/NMGC DuetMab+B1D2/NMGC DuetMab","NMGC IgG"], "range": ["diamond","triangle-up","diamond","circle"]}}}},
 {"data": {"name": "pts"}, "transform": [{"filter": "false"}], "mark": {"type": "point", "filled": true, "size": 34, "strokeWidth": 1.6, "opacity": 1}, "encoding": {"x": {"field": "x", "type": "quantitative", "scale": {"type": "log", "domain": [0.01, 1000], "nice": false}, "axis": null}, "y": {"field": "y", "type": "quantitative", "scale": {"domain": [-20, 100], "nice": false}, "title": "% Cytotoxicity", "axis": {"values": [-20,0,20,40,60,80,100]}},
  "stroke": {"field": "s", "type": "nominal", "title": null, "scale": {"domain": ["Trastuzumab/NMGC DuetMab","B1D2/NMGC DuetMab","Trastuzumab/NMGC DuetMab+B1D2/NMGC DuetMab","NMGC IgG"], "range": ["#f2a93b","#e8368c","#27a5b2","#111111"]}, "legend": {"orient": "none", "legendX": -28, "legendY": 143}},
  "fill": {"field": "s", "type": "nominal", "title": null, "scale": {"domain": ["Trastuzumab/NMGC DuetMab","B1D2/NMGC DuetMab","Trastuzumab/NMGC DuetMab+B1D2/NMGC DuetMab","NMGC IgG"], "range": ["#f2a93b","#ffffff","#ffffff","#111111"]}},
  "shape": {"field": "s", "type": "nominal", "title": null, "scale": {"domain": ["Trastuzumab/NMGC DuetMab","B1D2/NMGC DuetMab","Trastuzumab/NMGC DuetMab+B1D2/NMGC DuetMab","NMGC IgG"], "range": ["M-2.6,0H-1.15M1.15,0H2.6M0,-1.15L1.15,0L0,1.15L-1.15,0Z","M-2.6,0H-0.55M0.55,0H2.6M-1,0.8H1L0,-0.95Z","M-2.6,0H-1.15M1.15,0H2.6M0,-1.15L1.15,0L0,1.15L-1.15,0Z","M-2.6,0H-1M1,0H2.6M-1,0A1,1 0 1,1 1,0A1,1 0 1,1 -1,0Z"]}}}}
]},
{"title": {"text": "l", "dx": -50}, "width": 166, "height": 110, "resolve": {"axis": {"x": "independent"}, "scale": {"stroke": "independent", "fill": "independent", "shape": "independent"}}, "layer": [
 {"data": {"name": "crv"}, "transform": [{"filter": "datum.p==='l'"}], "mark": {"type": "line", "interpolate": "monotone", "strokeWidth": 1.4}, "encoding": {"x": {"field": "x", "type": "quantitative", "scale": {"type": "log", "domain": [0.01, 1000], "nice": false}, "axis": {"orient": "top", "title": "SK-BR-3"}}, "y": {"field": "y", "type": "quantitative", "scale": {"domain": [-20, 100], "nice": false}, "title": "% Cytotoxicity", "axis": {"values": [-20,0,20,40,60,80,100]}}, "color": {"field": "s", "type": "nominal", "scale": {"domain": ["NMGC IgG","Pertuzumab/NMGC DuetMab+B1D2/NMGC DuetMab","B1D2/NMGC DuetMab","Pertuzumab/NMGC DuetMab"], "range": ["#111111","#2a7b48","#e8368c","#c8d33a"]}, "legend": null}}},
 {"data": {"name": "pts"}, "transform": [{"filter": "datum.p==='l' && isValid(datum.lo)"}], "mark": {"type": "errorbar", "ticks": true, "thickness": 1.3}, "encoding": {"x": {"field": "x", "type": "quantitative", "scale": {"type": "log", "domain": [0.01, 1000], "nice": false}, "axis": {"values": [0.02,0.03,0.04,0.05,0.06,0.07,0.08,0.09,0.2,0.3,0.4,0.5,0.6,0.7,0.8,0.9,2,3,4,5,6,7,8,9,20,30,40,50,60,70,80,90,200,300,400,500,600,700,800,900], "labels": false, "domain": false, "title": null, "tickSize": 3, "tickWidth": 1}}, "y": {"field": "lo", "type": "quantitative", "scale": {"domain": [-20, 100], "nice": false}, "title": "% Cytotoxicity", "axis": {"values": [-20,0,20,40,60,80,100]}}, "y2": {"field": "hi"}, "color": {"field": "s", "type": "nominal", "legend": null}}},
 {"data": {"name": "pts"}, "transform": [{"filter": "datum.p==='l'"}], "mark": {"type": "point", "filled": true, "size": 34, "strokeWidth": 1.6, "opacity": 1}, "encoding": {"x": {"field": "x", "type": "quantitative", "scale": {"type": "log", "domain": [0.01, 1000], "nice": false}, "axis": {"values": [0.01,0.1,1,10,100,1000], "title": "[Ab] nM", "labelExpr": "datum.value<0.05?'10⁻²':datum.value<0.5?'10⁻¹':datum.value<5?'10⁰':datum.value<50?'10¹':datum.value<500?'10²':'10³'"}}, "y": {"field": "y", "type": "quantitative", "scale": {"domain": [-20, 100], "nice": false}, "title": "% Cytotoxicity", "axis": {"values": [-20,0,20,40,60,80,100]}},
  "stroke": {"field": "s", "type": "nominal", "legend": null, "scale": {"domain": ["Pertuzumab/NMGC DuetMab","B1D2/NMGC DuetMab","Pertuzumab/NMGC DuetMab+B1D2/NMGC DuetMab","NMGC IgG"], "range": ["#c8d33a","#e8368c","#2a7b48","#111111"]}},
  "fill": {"field": "s", "type": "nominal", "legend": null, "scale": {"domain": ["Pertuzumab/NMGC DuetMab","B1D2/NMGC DuetMab","Pertuzumab/NMGC DuetMab+B1D2/NMGC DuetMab","NMGC IgG"], "range": ["#ffffff","#ffffff","#ffffff","#111111"]}},
  "shape": {"field": "s", "type": "nominal", "legend": null, "scale": {"domain": ["Pertuzumab/NMGC DuetMab","B1D2/NMGC DuetMab","Pertuzumab/NMGC DuetMab+B1D2/NMGC DuetMab","NMGC IgG"], "range": ["circle","triangle-up","diamond","circle"]}}}},
 {"data": {"name": "pts"}, "transform": [{"filter": "false"}], "mark": {"type": "point", "filled": true, "size": 34, "strokeWidth": 1.6, "opacity": 1}, "encoding": {"x": {"field": "x", "type": "quantitative", "scale": {"type": "log", "domain": [0.01, 1000], "nice": false}, "axis": null}, "y": {"field": "y", "type": "quantitative", "scale": {"domain": [-20, 100], "nice": false}, "title": "% Cytotoxicity", "axis": {"values": [-20,0,20,40,60,80,100]}},
  "stroke": {"field": "s", "type": "nominal", "title": null, "scale": {"domain": ["Pertuzumab/NMGC DuetMab","B1D2/NMGC DuetMab","Pertuzumab/NMGC DuetMab+B1D2/NMGC DuetMab","NMGC IgG"], "range": ["#c8d33a","#e8368c","#2a7b48","#111111"]}, "legend": {"orient": "none", "legendX": -46, "legendY": 143}},
  "fill": {"field": "s", "type": "nominal", "title": null, "scale": {"domain": ["Pertuzumab/NMGC DuetMab","B1D2/NMGC DuetMab","Pertuzumab/NMGC DuetMab+B1D2/NMGC DuetMab","NMGC IgG"], "range": ["#ffffff","#ffffff","#ffffff","#111111"]}},
  "shape": {"field": "s", "type": "nominal", "title": null, "scale": {"domain": ["Pertuzumab/NMGC DuetMab","B1D2/NMGC DuetMab","Pertuzumab/NMGC DuetMab+B1D2/NMGC DuetMab","NMGC IgG"], "range": ["M-2.6,0H-1M1,0H2.6M-1,0A1,1 0 1,1 1,0A1,1 0 1,1 -1,0Z","M-2.6,0H-0.55M0.55,0H2.6M-1,0.8H1L0,-0.95Z","M-2.6,0H-1.15M1.15,0H2.6M0,-1.15L1.15,0L0,1.15L-1.15,0Z","M-2.6,0H-1M1,0H2.6M-1,0A1,1 0 1,1 1,0A1,1 0 1,1 -1,0Z"]}}}}
]}
]
}
